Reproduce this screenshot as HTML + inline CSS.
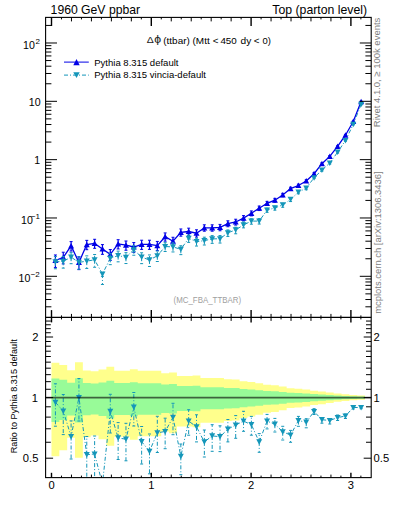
<!DOCTYPE html><html><head><meta charset="utf-8"><style>html,body{margin:0;padding:0;background:#fff;width:393px;height:512px;overflow:hidden}svg{display:block}text{font-family:"Liberation Sans",sans-serif}</style></head><body>
<svg width="393" height="512" viewBox="0 0 393 512">
<defs><clipPath id="cu"><rect x="45.60" y="17.40" width="325.60" height="300.00"/></clipPath>
<clipPath id="cr"><rect x="45.60" y="317.40" width="325.60" height="160.20"/></clipPath></defs>
<path d="M51.50,362.82 L51.50,362.82 L59.34,362.82 L59.34,364.96 L67.18,364.96 L67.18,370.14 L75.01,370.14 L75.01,362.32 L82.85,362.32 L82.85,370.44 L90.69,370.44 L90.69,371.22 L98.53,371.22 L98.53,369.49 L106.37,369.49 L106.37,366.71 L114.21,366.71 L114.21,370.67 L122.04,370.67 L122.04,370.67 L129.88,370.67 L129.88,369.28 L137.72,369.28 L137.72,370.87 L145.56,370.87 L145.56,370.87 L153.40,370.87 L153.40,370.87 L161.24,370.87 L161.24,373.18 L169.07,373.18 L169.07,372.38 L176.91,372.38 L176.91,375.88 L184.75,375.88 L184.75,375.88 L192.59,375.88 L192.59,375.53 L200.43,375.53 L200.43,378.10 L208.27,378.10 L208.27,378.10 L216.10,378.10 L216.10,378.10 L223.94,378.10 L223.94,379.23 L231.78,379.23 L231.78,379.41 L239.62,379.41 L239.62,381.14 L247.46,381.14 L247.46,382.09 L255.30,382.09 L255.30,383.29 L263.13,383.29 L263.13,384.78 L270.97,384.78 L270.97,385.31 L278.81,385.31 L278.81,386.51 L286.65,386.51 L286.65,388.22 L294.49,388.22 L294.49,388.65 L302.32,388.65 L302.32,389.53 L310.16,389.53 L310.16,390.75 L318.00,390.75 L318.00,391.50 L325.84,391.50 L325.84,392.43 L333.68,392.43 L333.68,393.57 L341.52,393.57 L341.52,394.36 L349.35,394.36 L349.35,394.96 L357.19,394.96 L357.19,395.46 L365.03,395.46 L365.03,399.80 L357.19,399.80 L357.19,400.32 L349.35,400.32 L349.35,400.96 L341.52,400.96 L341.52,401.82 L333.68,401.82 L333.68,403.09 L325.84,403.09 L325.84,404.16 L318.00,404.16 L318.00,405.03 L310.16,405.03 L310.16,406.49 L302.32,406.49 L302.32,407.57 L294.49,407.57 L294.49,408.11 L286.65,408.11 L286.65,410.30 L278.81,410.30 L278.81,411.90 L270.97,411.90 L270.97,412.63 L263.13,412.63 L263.13,414.72 L255.30,414.72 L255.30,416.46 L247.46,416.46 L247.46,417.90 L239.62,417.90 L239.62,420.60 L231.78,420.60 L231.78,420.89 L223.94,420.89 L223.94,422.73 L216.10,422.73 L216.10,422.73 L208.27,422.73 L208.27,422.73 L200.43,422.73 L200.43,427.19 L192.59,427.19 L192.59,426.57 L184.75,426.57 L184.75,426.57 L176.91,426.57 L176.91,433.19 L169.07,433.19 L169.07,431.60 L161.24,431.60 L161.24,436.30 L153.40,436.30 L153.40,436.30 L145.56,436.30 L145.56,436.30 L137.72,436.30 L137.72,439.76 L129.88,439.76 L129.88,436.72 L122.04,436.72 L122.04,436.72 L114.21,436.72 L114.21,445.80 L106.37,445.80 L106.37,439.30 L98.53,439.30 L98.53,435.57 L90.69,435.57 L90.69,437.22 L82.85,437.22 L82.85,457.71 L75.01,457.71 L75.01,437.87 L67.18,437.87 L67.18,450.28 L59.34,450.28 L59.34,456.24 L51.50,456.24 Z" fill="#ffff8c" clip-path="url(#cr)"/>
<path d="M51.50,378.49 L51.50,378.49 L59.34,378.49 L59.34,379.76 L67.18,379.76 L67.18,382.79 L75.01,382.79 L75.01,378.19 L82.85,378.19 L82.85,382.97 L90.69,382.97 L90.69,383.42 L98.53,383.42 L98.53,382.42 L106.37,382.42 L106.37,380.80 L114.21,380.80 L114.21,383.10 L122.04,383.10 L122.04,383.10 L129.88,383.10 L129.88,382.30 L137.72,382.30 L137.72,383.22 L145.56,383.22 L145.56,383.22 L153.40,383.22 L153.40,383.22 L161.24,383.22 L161.24,384.54 L169.07,384.54 L169.07,384.08 L176.91,384.08 L176.91,386.07 L184.75,386.07 L184.75,386.07 L192.59,386.07 L192.59,385.87 L200.43,385.87 L200.43,387.31 L208.27,387.31 L208.27,387.31 L216.10,387.31 L216.10,387.31 L223.94,387.31 L223.94,387.93 L231.78,387.93 L231.78,388.03 L239.62,388.03 L239.62,388.98 L247.46,388.98 L247.46,389.50 L255.30,389.50 L255.30,390.15 L263.13,390.15 L263.13,390.96 L270.97,390.96 L270.97,391.24 L278.81,391.24 L278.81,391.88 L286.65,391.88 L286.65,392.78 L294.49,392.78 L294.49,393.01 L302.32,393.01 L302.32,393.47 L310.16,393.47 L310.16,394.11 L318.00,394.11 L318.00,394.49 L325.84,394.49 L325.84,394.98 L333.68,394.98 L333.68,395.56 L341.52,395.56 L341.52,395.97 L349.35,395.97 L349.35,396.27 L357.19,396.27 L357.19,396.52 L365.03,396.52 L365.03,398.69 L357.19,398.69 L357.19,398.95 L349.35,398.95 L349.35,399.26 L341.52,399.26 L341.52,399.69 L333.68,399.69 L333.68,400.30 L325.84,400.30 L325.84,400.82 L318.00,400.82 L318.00,401.23 L310.16,401.23 L310.16,401.93 L302.32,401.93 L302.32,402.44 L294.49,402.44 L294.49,402.70 L286.65,402.70 L286.65,403.72 L278.81,403.72 L278.81,404.46 L270.97,404.46 L270.97,404.79 L263.13,404.79 L263.13,405.74 L255.30,405.74 L255.30,406.52 L247.46,406.52 L247.46,407.16 L239.62,407.16 L239.62,408.35 L231.78,408.35 L231.78,408.47 L223.94,408.47 L223.94,409.27 L216.10,409.27 L216.10,409.27 L208.27,409.27 L208.27,409.27 L200.43,409.27 L200.43,411.15 L192.59,411.15 L192.59,410.89 L184.75,410.89 L184.75,410.89 L176.91,410.89 L176.91,413.60 L169.07,413.60 L169.07,412.96 L161.24,412.96 L161.24,414.82 L153.40,414.82 L153.40,414.82 L145.56,414.82 L145.56,414.82 L137.72,414.82 L137.72,416.16 L129.88,416.16 L129.88,414.99 L122.04,414.99 L122.04,414.99 L114.21,414.99 L114.21,418.42 L106.37,418.42 L106.37,415.99 L98.53,415.99 L98.53,414.54 L90.69,414.54 L90.69,415.18 L82.85,415.18 L82.85,422.59 L75.01,422.59 L75.01,415.43 L67.18,415.43 L67.18,420.03 L59.34,420.03 L59.34,422.09 L51.50,422.09 Z" fill="#98fb98" clip-path="url(#cr)"/>
<g clip-path="url(#cr)"><polyline points="55.42,402.30 63.26,411.10 71.10,436.50 78.93,397.50 86.77,454.70 94.61,454.10 102.45,484.00 110.29,411.30 118.13,437.90 125.96,439.20 133.80,407.20 141.64,441.70 149.48,451.30 157.32,432.80 165.15,431.50 172.99,417.30 180.83,456.30 188.67,421.10 196.51,426.90 204.35,441.90 212.18,435.90 220.02,436.70 227.86,429.20 235.70,425.00 243.54,421.10 251.38,424.70 259.21,441.90 267.05,421.10 274.89,424.20 282.73,431.80 290.57,435.00 298.41,420.60 306.24,422.20 314.08,411.50 321.92,419.70 329.76,420.50 337.60,417.60 345.44,416.00 353.27,407.50 361.11,407.50" fill="none" stroke="#1496b9" stroke-width="1" stroke-dasharray="4,2,1,2"/><line x1="55.42" y1="402.30" x2="55.42" y2="383.80" stroke="#1496b9" stroke-width="1" stroke-dasharray="4,2,1,2"/><line x1="55.42" y1="402.30" x2="55.42" y2="426.20" stroke="#1496b9" stroke-width="1" stroke-dasharray="4,2,1,2"/><line x1="53.92" y1="383.80" x2="56.92" y2="383.80" stroke="#1496b9" stroke-width="1"/><line x1="53.92" y1="426.20" x2="56.92" y2="426.20" stroke="#1496b9" stroke-width="1"/><line x1="63.26" y1="411.10" x2="63.26" y2="394.50" stroke="#1496b9" stroke-width="1" stroke-dasharray="4,2,1,2"/><line x1="63.26" y1="411.10" x2="63.26" y2="434.60" stroke="#1496b9" stroke-width="1" stroke-dasharray="4,2,1,2"/><line x1="61.76" y1="394.50" x2="64.76" y2="394.50" stroke="#1496b9" stroke-width="1"/><line x1="61.76" y1="434.60" x2="64.76" y2="434.60" stroke="#1496b9" stroke-width="1"/><line x1="71.10" y1="436.50" x2="71.10" y2="420.90" stroke="#1496b9" stroke-width="1" stroke-dasharray="4,2,1,2"/><line x1="71.10" y1="436.50" x2="71.10" y2="459.00" stroke="#1496b9" stroke-width="1" stroke-dasharray="4,2,1,2"/><line x1="69.60" y1="420.90" x2="72.60" y2="420.90" stroke="#1496b9" stroke-width="1"/><line x1="69.60" y1="459.00" x2="72.60" y2="459.00" stroke="#1496b9" stroke-width="1"/><line x1="78.93" y1="397.50" x2="78.93" y2="378.50" stroke="#1496b9" stroke-width="1" stroke-dasharray="4,2,1,2"/><line x1="78.93" y1="397.50" x2="78.93" y2="421.00" stroke="#1496b9" stroke-width="1" stroke-dasharray="4,2,1,2"/><line x1="77.43" y1="378.50" x2="80.43" y2="378.50" stroke="#1496b9" stroke-width="1"/><line x1="77.43" y1="421.00" x2="80.43" y2="421.00" stroke="#1496b9" stroke-width="1"/><line x1="86.77" y1="454.70" x2="86.77" y2="436.50" stroke="#1496b9" stroke-width="1" stroke-dasharray="4,2,1,2"/><line x1="86.77" y1="454.70" x2="86.77" y2="480.00" stroke="#1496b9" stroke-width="1" stroke-dasharray="4,2,1,2"/><line x1="85.27" y1="436.50" x2="88.27" y2="436.50" stroke="#1496b9" stroke-width="1"/><line x1="85.27" y1="480.00" x2="88.27" y2="480.00" stroke="#1496b9" stroke-width="1"/><line x1="94.61" y1="454.10" x2="94.61" y2="436.00" stroke="#1496b9" stroke-width="1" stroke-dasharray="4,2,1,2"/><line x1="94.61" y1="454.10" x2="94.61" y2="480.00" stroke="#1496b9" stroke-width="1" stroke-dasharray="4,2,1,2"/><line x1="93.11" y1="436.00" x2="96.11" y2="436.00" stroke="#1496b9" stroke-width="1"/><line x1="93.11" y1="480.00" x2="96.11" y2="480.00" stroke="#1496b9" stroke-width="1"/><line x1="102.45" y1="484.00" x2="102.45" y2="492.00" stroke="#1496b9" stroke-width="1" stroke-dasharray="4,2,1,2"/><line x1="102.45" y1="484.00" x2="102.45" y2="520.00" stroke="#1496b9" stroke-width="1" stroke-dasharray="4,2,1,2"/><line x1="100.95" y1="492.00" x2="103.95" y2="492.00" stroke="#1496b9" stroke-width="1"/><line x1="100.95" y1="520.00" x2="103.95" y2="520.00" stroke="#1496b9" stroke-width="1"/><line x1="110.29" y1="411.30" x2="110.29" y2="394.30" stroke="#1496b9" stroke-width="1" stroke-dasharray="4,2,1,2"/><line x1="110.29" y1="411.30" x2="110.29" y2="433.00" stroke="#1496b9" stroke-width="1" stroke-dasharray="4,2,1,2"/><line x1="108.79" y1="394.30" x2="111.79" y2="394.30" stroke="#1496b9" stroke-width="1"/><line x1="108.79" y1="433.00" x2="111.79" y2="433.00" stroke="#1496b9" stroke-width="1"/><line x1="118.13" y1="437.90" x2="118.13" y2="422.60" stroke="#1496b9" stroke-width="1" stroke-dasharray="4,2,1,2"/><line x1="118.13" y1="437.90" x2="118.13" y2="459.50" stroke="#1496b9" stroke-width="1" stroke-dasharray="4,2,1,2"/><line x1="116.63" y1="422.60" x2="119.63" y2="422.60" stroke="#1496b9" stroke-width="1"/><line x1="116.63" y1="459.50" x2="119.63" y2="459.50" stroke="#1496b9" stroke-width="1"/><line x1="125.96" y1="439.20" x2="125.96" y2="423.30" stroke="#1496b9" stroke-width="1" stroke-dasharray="4,2,1,2"/><line x1="125.96" y1="439.20" x2="125.96" y2="460.80" stroke="#1496b9" stroke-width="1" stroke-dasharray="4,2,1,2"/><line x1="124.46" y1="423.30" x2="127.46" y2="423.30" stroke="#1496b9" stroke-width="1"/><line x1="124.46" y1="460.80" x2="127.46" y2="460.80" stroke="#1496b9" stroke-width="1"/><line x1="133.80" y1="407.20" x2="133.80" y2="392.50" stroke="#1496b9" stroke-width="1" stroke-dasharray="4,2,1,2"/><line x1="133.80" y1="407.20" x2="133.80" y2="426.00" stroke="#1496b9" stroke-width="1" stroke-dasharray="4,2,1,2"/><line x1="132.30" y1="392.50" x2="135.30" y2="392.50" stroke="#1496b9" stroke-width="1"/><line x1="132.30" y1="426.00" x2="135.30" y2="426.00" stroke="#1496b9" stroke-width="1"/><line x1="141.64" y1="441.70" x2="141.64" y2="426.50" stroke="#1496b9" stroke-width="1" stroke-dasharray="4,2,1,2"/><line x1="141.64" y1="441.70" x2="141.64" y2="464.00" stroke="#1496b9" stroke-width="1" stroke-dasharray="4,2,1,2"/><line x1="140.14" y1="426.50" x2="143.14" y2="426.50" stroke="#1496b9" stroke-width="1"/><line x1="140.14" y1="464.00" x2="143.14" y2="464.00" stroke="#1496b9" stroke-width="1"/><line x1="149.48" y1="451.30" x2="149.48" y2="434.00" stroke="#1496b9" stroke-width="1" stroke-dasharray="4,2,1,2"/><line x1="149.48" y1="451.30" x2="149.48" y2="473.80" stroke="#1496b9" stroke-width="1" stroke-dasharray="4,2,1,2"/><line x1="147.98" y1="434.00" x2="150.98" y2="434.00" stroke="#1496b9" stroke-width="1"/><line x1="147.98" y1="473.80" x2="150.98" y2="473.80" stroke="#1496b9" stroke-width="1"/><line x1="157.32" y1="432.80" x2="157.32" y2="416.30" stroke="#1496b9" stroke-width="1" stroke-dasharray="4,2,1,2"/><line x1="157.32" y1="432.80" x2="157.32" y2="452.50" stroke="#1496b9" stroke-width="1" stroke-dasharray="4,2,1,2"/><line x1="155.82" y1="416.30" x2="158.82" y2="416.30" stroke="#1496b9" stroke-width="1"/><line x1="155.82" y1="452.50" x2="158.82" y2="452.50" stroke="#1496b9" stroke-width="1"/><line x1="165.15" y1="431.50" x2="165.15" y2="418.20" stroke="#1496b9" stroke-width="1" stroke-dasharray="4,2,1,2"/><line x1="165.15" y1="431.50" x2="165.15" y2="448.70" stroke="#1496b9" stroke-width="1" stroke-dasharray="4,2,1,2"/><line x1="163.65" y1="418.20" x2="166.65" y2="418.20" stroke="#1496b9" stroke-width="1"/><line x1="163.65" y1="448.70" x2="166.65" y2="448.70" stroke="#1496b9" stroke-width="1"/><line x1="172.99" y1="417.30" x2="172.99" y2="403.30" stroke="#1496b9" stroke-width="1" stroke-dasharray="4,2,1,2"/><line x1="172.99" y1="417.30" x2="172.99" y2="434.70" stroke="#1496b9" stroke-width="1" stroke-dasharray="4,2,1,2"/><line x1="171.49" y1="403.30" x2="174.49" y2="403.30" stroke="#1496b9" stroke-width="1"/><line x1="171.49" y1="434.70" x2="174.49" y2="434.70" stroke="#1496b9" stroke-width="1"/><line x1="180.83" y1="456.30" x2="180.83" y2="444.00" stroke="#1496b9" stroke-width="1" stroke-dasharray="4,2,1,2"/><line x1="180.83" y1="456.30" x2="180.83" y2="474.70" stroke="#1496b9" stroke-width="1" stroke-dasharray="4,2,1,2"/><line x1="179.33" y1="444.00" x2="182.33" y2="444.00" stroke="#1496b9" stroke-width="1"/><line x1="179.33" y1="474.70" x2="182.33" y2="474.70" stroke="#1496b9" stroke-width="1"/><line x1="188.67" y1="421.10" x2="188.67" y2="409.70" stroke="#1496b9" stroke-width="1" stroke-dasharray="4,2,1,2"/><line x1="188.67" y1="421.10" x2="188.67" y2="435.20" stroke="#1496b9" stroke-width="1" stroke-dasharray="4,2,1,2"/><line x1="187.17" y1="409.70" x2="190.17" y2="409.70" stroke="#1496b9" stroke-width="1"/><line x1="187.17" y1="435.20" x2="190.17" y2="435.20" stroke="#1496b9" stroke-width="1"/><line x1="196.51" y1="426.90" x2="196.51" y2="414.80" stroke="#1496b9" stroke-width="1" stroke-dasharray="4,2,1,2"/><line x1="196.51" y1="426.90" x2="196.51" y2="441.90" stroke="#1496b9" stroke-width="1" stroke-dasharray="4,2,1,2"/><line x1="195.01" y1="414.80" x2="198.01" y2="414.80" stroke="#1496b9" stroke-width="1"/><line x1="195.01" y1="441.90" x2="198.01" y2="441.90" stroke="#1496b9" stroke-width="1"/><line x1="204.35" y1="441.90" x2="204.35" y2="430.00" stroke="#1496b9" stroke-width="1" stroke-dasharray="4,2,1,2"/><line x1="204.35" y1="441.90" x2="204.35" y2="457.00" stroke="#1496b9" stroke-width="1" stroke-dasharray="4,2,1,2"/><line x1="202.85" y1="430.00" x2="205.85" y2="430.00" stroke="#1496b9" stroke-width="1"/><line x1="202.85" y1="457.00" x2="205.85" y2="457.00" stroke="#1496b9" stroke-width="1"/><line x1="212.18" y1="435.90" x2="212.18" y2="424.70" stroke="#1496b9" stroke-width="1" stroke-dasharray="4,2,1,2"/><line x1="212.18" y1="435.90" x2="212.18" y2="451.30" stroke="#1496b9" stroke-width="1" stroke-dasharray="4,2,1,2"/><line x1="210.68" y1="424.70" x2="213.68" y2="424.70" stroke="#1496b9" stroke-width="1"/><line x1="210.68" y1="451.30" x2="213.68" y2="451.30" stroke="#1496b9" stroke-width="1"/><line x1="220.02" y1="436.70" x2="220.02" y2="425.80" stroke="#1496b9" stroke-width="1" stroke-dasharray="4,2,1,2"/><line x1="220.02" y1="436.70" x2="220.02" y2="451.60" stroke="#1496b9" stroke-width="1" stroke-dasharray="4,2,1,2"/><line x1="218.52" y1="425.80" x2="221.52" y2="425.80" stroke="#1496b9" stroke-width="1"/><line x1="218.52" y1="451.60" x2="221.52" y2="451.60" stroke="#1496b9" stroke-width="1"/><line x1="227.86" y1="429.20" x2="227.86" y2="419.50" stroke="#1496b9" stroke-width="1" stroke-dasharray="4,2,1,2"/><line x1="227.86" y1="429.20" x2="227.86" y2="441.90" stroke="#1496b9" stroke-width="1" stroke-dasharray="4,2,1,2"/><line x1="226.36" y1="419.50" x2="229.36" y2="419.50" stroke="#1496b9" stroke-width="1"/><line x1="226.36" y1="441.90" x2="229.36" y2="441.90" stroke="#1496b9" stroke-width="1"/><line x1="235.70" y1="425.00" x2="235.70" y2="415.60" stroke="#1496b9" stroke-width="1" stroke-dasharray="4,2,1,2"/><line x1="235.70" y1="425.00" x2="235.70" y2="438.30" stroke="#1496b9" stroke-width="1" stroke-dasharray="4,2,1,2"/><line x1="234.20" y1="415.60" x2="237.20" y2="415.60" stroke="#1496b9" stroke-width="1"/><line x1="234.20" y1="438.30" x2="237.20" y2="438.30" stroke="#1496b9" stroke-width="1"/><line x1="243.54" y1="421.10" x2="243.54" y2="411.30" stroke="#1496b9" stroke-width="1" stroke-dasharray="4,2,1,2"/><line x1="243.54" y1="421.10" x2="243.54" y2="431.30" stroke="#1496b9" stroke-width="1" stroke-dasharray="4,2,1,2"/><line x1="242.04" y1="411.30" x2="245.04" y2="411.30" stroke="#1496b9" stroke-width="1"/><line x1="242.04" y1="431.30" x2="245.04" y2="431.30" stroke="#1496b9" stroke-width="1"/><line x1="251.38" y1="424.70" x2="251.38" y2="416.40" stroke="#1496b9" stroke-width="1" stroke-dasharray="4,2,1,2"/><line x1="251.38" y1="424.70" x2="251.38" y2="435.20" stroke="#1496b9" stroke-width="1" stroke-dasharray="4,2,1,2"/><line x1="249.88" y1="416.40" x2="252.88" y2="416.40" stroke="#1496b9" stroke-width="1"/><line x1="249.88" y1="435.20" x2="252.88" y2="435.20" stroke="#1496b9" stroke-width="1"/><line x1="259.21" y1="441.90" x2="259.21" y2="433.60" stroke="#1496b9" stroke-width="1" stroke-dasharray="4,2,1,2"/><line x1="259.21" y1="441.90" x2="259.21" y2="452.30" stroke="#1496b9" stroke-width="1" stroke-dasharray="4,2,1,2"/><line x1="257.71" y1="433.60" x2="260.71" y2="433.60" stroke="#1496b9" stroke-width="1"/><line x1="257.71" y1="452.30" x2="260.71" y2="452.30" stroke="#1496b9" stroke-width="1"/><line x1="267.05" y1="421.10" x2="267.05" y2="414.40" stroke="#1496b9" stroke-width="1" stroke-dasharray="4,2,1,2"/><line x1="267.05" y1="421.10" x2="267.05" y2="428.90" stroke="#1496b9" stroke-width="1" stroke-dasharray="4,2,1,2"/><line x1="265.55" y1="414.40" x2="268.55" y2="414.40" stroke="#1496b9" stroke-width="1"/><line x1="265.55" y1="428.90" x2="268.55" y2="428.90" stroke="#1496b9" stroke-width="1"/><line x1="274.89" y1="424.20" x2="274.89" y2="418.40" stroke="#1496b9" stroke-width="1" stroke-dasharray="4,2,1,2"/><line x1="274.89" y1="424.20" x2="274.89" y2="432.00" stroke="#1496b9" stroke-width="1" stroke-dasharray="4,2,1,2"/><line x1="273.39" y1="418.40" x2="276.39" y2="418.40" stroke="#1496b9" stroke-width="1"/><line x1="273.39" y1="432.00" x2="276.39" y2="432.00" stroke="#1496b9" stroke-width="1"/><line x1="282.73" y1="431.80" x2="282.73" y2="426.30" stroke="#1496b9" stroke-width="1" stroke-dasharray="4,2,1,2"/><line x1="282.73" y1="431.80" x2="282.73" y2="440.00" stroke="#1496b9" stroke-width="1" stroke-dasharray="4,2,1,2"/><line x1="281.23" y1="426.30" x2="284.23" y2="426.30" stroke="#1496b9" stroke-width="1"/><line x1="281.23" y1="440.00" x2="284.23" y2="440.00" stroke="#1496b9" stroke-width="1"/><line x1="290.57" y1="435.00" x2="290.57" y2="430.40" stroke="#1496b9" stroke-width="1" stroke-dasharray="4,2,1,2"/><line x1="290.57" y1="435.00" x2="290.57" y2="442.30" stroke="#1496b9" stroke-width="1" stroke-dasharray="4,2,1,2"/><line x1="289.07" y1="430.40" x2="292.07" y2="430.40" stroke="#1496b9" stroke-width="1"/><line x1="289.07" y1="442.30" x2="292.07" y2="442.30" stroke="#1496b9" stroke-width="1"/><line x1="298.41" y1="420.60" x2="298.41" y2="416.40" stroke="#1496b9" stroke-width="1" stroke-dasharray="4,2,1,2"/><line x1="298.41" y1="420.60" x2="298.41" y2="426.30" stroke="#1496b9" stroke-width="1" stroke-dasharray="4,2,1,2"/><line x1="296.91" y1="416.40" x2="299.91" y2="416.40" stroke="#1496b9" stroke-width="1"/><line x1="296.91" y1="426.30" x2="299.91" y2="426.30" stroke="#1496b9" stroke-width="1"/><line x1="306.24" y1="422.20" x2="306.24" y2="418.70" stroke="#1496b9" stroke-width="1" stroke-dasharray="4,2,1,2"/><line x1="306.24" y1="422.20" x2="306.24" y2="427.80" stroke="#1496b9" stroke-width="1" stroke-dasharray="4,2,1,2"/><line x1="304.74" y1="418.70" x2="307.74" y2="418.70" stroke="#1496b9" stroke-width="1"/><line x1="304.74" y1="427.80" x2="307.74" y2="427.80" stroke="#1496b9" stroke-width="1"/><line x1="314.08" y1="411.50" x2="314.08" y2="408.70" stroke="#1496b9" stroke-width="1" stroke-dasharray="4,2,1,2"/><line x1="314.08" y1="411.50" x2="314.08" y2="414.50" stroke="#1496b9" stroke-width="1" stroke-dasharray="4,2,1,2"/><line x1="312.58" y1="408.70" x2="315.58" y2="408.70" stroke="#1496b9" stroke-width="1"/><line x1="312.58" y1="414.50" x2="315.58" y2="414.50" stroke="#1496b9" stroke-width="1"/><line x1="321.92" y1="419.70" x2="321.92" y2="417.60" stroke="#1496b9" stroke-width="1" stroke-dasharray="4,2,1,2"/><line x1="321.92" y1="419.70" x2="321.92" y2="423.20" stroke="#1496b9" stroke-width="1" stroke-dasharray="4,2,1,2"/><line x1="320.42" y1="417.60" x2="323.42" y2="417.60" stroke="#1496b9" stroke-width="1"/><line x1="320.42" y1="423.20" x2="323.42" y2="423.20" stroke="#1496b9" stroke-width="1"/><line x1="329.76" y1="420.50" x2="329.76" y2="418.70" stroke="#1496b9" stroke-width="1" stroke-dasharray="4,2,1,2"/><line x1="329.76" y1="420.50" x2="329.76" y2="424.00" stroke="#1496b9" stroke-width="1" stroke-dasharray="4,2,1,2"/><line x1="328.26" y1="418.70" x2="331.26" y2="418.70" stroke="#1496b9" stroke-width="1"/><line x1="328.26" y1="424.00" x2="331.26" y2="424.00" stroke="#1496b9" stroke-width="1"/><line x1="337.60" y1="417.60" x2="337.60" y2="415.00" stroke="#1496b9" stroke-width="1" stroke-dasharray="4,2,1,2"/><line x1="337.60" y1="417.60" x2="337.60" y2="420.50" stroke="#1496b9" stroke-width="1" stroke-dasharray="4,2,1,2"/><line x1="336.10" y1="415.00" x2="339.10" y2="415.00" stroke="#1496b9" stroke-width="1"/><line x1="336.10" y1="420.50" x2="339.10" y2="420.50" stroke="#1496b9" stroke-width="1"/><line x1="345.44" y1="416.00" x2="345.44" y2="414.00" stroke="#1496b9" stroke-width="1" stroke-dasharray="4,2,1,2"/><line x1="345.44" y1="416.00" x2="345.44" y2="418.50" stroke="#1496b9" stroke-width="1" stroke-dasharray="4,2,1,2"/><line x1="343.94" y1="414.00" x2="346.94" y2="414.00" stroke="#1496b9" stroke-width="1"/><line x1="343.94" y1="418.50" x2="346.94" y2="418.50" stroke="#1496b9" stroke-width="1"/><line x1="353.27" y1="407.50" x2="353.27" y2="406.00" stroke="#1496b9" stroke-width="1" stroke-dasharray="4,2,1,2"/><line x1="353.27" y1="407.50" x2="353.27" y2="409.00" stroke="#1496b9" stroke-width="1" stroke-dasharray="4,2,1,2"/><line x1="351.77" y1="406.00" x2="354.77" y2="406.00" stroke="#1496b9" stroke-width="1"/><line x1="351.77" y1="409.00" x2="354.77" y2="409.00" stroke="#1496b9" stroke-width="1"/><line x1="361.11" y1="407.50" x2="361.11" y2="406.30" stroke="#1496b9" stroke-width="1" stroke-dasharray="4,2,1,2"/><line x1="361.11" y1="407.50" x2="361.11" y2="408.70" stroke="#1496b9" stroke-width="1" stroke-dasharray="4,2,1,2"/><line x1="359.61" y1="406.30" x2="362.61" y2="406.30" stroke="#1496b9" stroke-width="1"/><line x1="359.61" y1="408.70" x2="362.61" y2="408.70" stroke="#1496b9" stroke-width="1"/><path d="M52.42,399.70 L58.42,399.70 L55.42,405.20 Z" fill="#1496b9"/><path d="M60.26,408.50 L66.26,408.50 L63.26,414.00 Z" fill="#1496b9"/><path d="M68.10,433.90 L74.10,433.90 L71.10,439.40 Z" fill="#1496b9"/><path d="M75.93,394.90 L81.93,394.90 L78.93,400.40 Z" fill="#1496b9"/><path d="M83.77,452.10 L89.77,452.10 L86.77,457.60 Z" fill="#1496b9"/><path d="M91.61,451.50 L97.61,451.50 L94.61,457.00 Z" fill="#1496b9"/><path d="M99.45,481.40 L105.45,481.40 L102.45,486.90 Z" fill="#1496b9"/><path d="M107.29,408.70 L113.29,408.70 L110.29,414.20 Z" fill="#1496b9"/><path d="M115.13,435.30 L121.13,435.30 L118.13,440.80 Z" fill="#1496b9"/><path d="M122.96,436.60 L128.96,436.60 L125.96,442.10 Z" fill="#1496b9"/><path d="M130.80,404.60 L136.80,404.60 L133.80,410.10 Z" fill="#1496b9"/><path d="M138.64,439.10 L144.64,439.10 L141.64,444.60 Z" fill="#1496b9"/><path d="M146.48,448.70 L152.48,448.70 L149.48,454.20 Z" fill="#1496b9"/><path d="M154.32,430.20 L160.32,430.20 L157.32,435.70 Z" fill="#1496b9"/><path d="M162.15,428.90 L168.15,428.90 L165.15,434.40 Z" fill="#1496b9"/><path d="M169.99,414.70 L175.99,414.70 L172.99,420.20 Z" fill="#1496b9"/><path d="M177.83,453.70 L183.83,453.70 L180.83,459.20 Z" fill="#1496b9"/><path d="M185.67,418.50 L191.67,418.50 L188.67,424.00 Z" fill="#1496b9"/><path d="M193.51,424.30 L199.51,424.30 L196.51,429.80 Z" fill="#1496b9"/><path d="M201.35,439.30 L207.35,439.30 L204.35,444.80 Z" fill="#1496b9"/><path d="M209.18,433.30 L215.18,433.30 L212.18,438.80 Z" fill="#1496b9"/><path d="M217.02,434.10 L223.02,434.10 L220.02,439.60 Z" fill="#1496b9"/><path d="M224.86,426.60 L230.86,426.60 L227.86,432.10 Z" fill="#1496b9"/><path d="M232.70,422.40 L238.70,422.40 L235.70,427.90 Z" fill="#1496b9"/><path d="M240.54,418.50 L246.54,418.50 L243.54,424.00 Z" fill="#1496b9"/><path d="M248.38,422.10 L254.38,422.10 L251.38,427.60 Z" fill="#1496b9"/><path d="M256.21,439.30 L262.21,439.30 L259.21,444.80 Z" fill="#1496b9"/><path d="M264.05,418.50 L270.05,418.50 L267.05,424.00 Z" fill="#1496b9"/><path d="M271.89,421.60 L277.89,421.60 L274.89,427.10 Z" fill="#1496b9"/><path d="M279.73,429.20 L285.73,429.20 L282.73,434.70 Z" fill="#1496b9"/><path d="M287.57,432.40 L293.57,432.40 L290.57,437.90 Z" fill="#1496b9"/><path d="M295.41,418.00 L301.41,418.00 L298.41,423.50 Z" fill="#1496b9"/><path d="M303.24,419.60 L309.24,419.60 L306.24,425.10 Z" fill="#1496b9"/><path d="M311.08,408.90 L317.08,408.90 L314.08,414.40 Z" fill="#1496b9"/><path d="M318.92,417.10 L324.92,417.10 L321.92,422.60 Z" fill="#1496b9"/><path d="M326.76,417.90 L332.76,417.90 L329.76,423.40 Z" fill="#1496b9"/><path d="M334.60,415.00 L340.60,415.00 L337.60,420.50 Z" fill="#1496b9"/><path d="M342.44,413.40 L348.44,413.40 L345.44,418.90 Z" fill="#1496b9"/><path d="M350.27,404.90 L356.27,404.90 L353.27,410.40 Z" fill="#1496b9"/><path d="M358.11,404.90 L364.11,404.90 L361.11,410.40 Z" fill="#1496b9"/></g>
<line x1="45.60" y1="397.7" x2="371.20" y2="397.7" stroke="#000" stroke-opacity="0.6" stroke-width="1.7"/>
<g clip-path="url(#cu)"><polyline points="55.42,260.50 63.26,257.40 71.10,245.90 78.93,262.40 86.77,244.60 94.61,243.40 102.45,249.00 110.29,254.40 118.13,243.90 125.96,245.20 133.80,247.00 141.64,244.40 149.48,244.40 157.32,245.60 165.15,236.70 172.99,241.20 180.83,232.30 188.67,231.50 196.51,233.20 204.35,227.80 212.18,227.80 220.02,227.40 227.86,223.60 235.70,222.00 243.54,218.10 251.38,213.30 259.21,208.20 267.05,203.30 274.89,200.20 282.73,195.00 290.57,188.60 298.41,185.50 306.24,181.00 314.08,173.70 321.92,163.70 329.76,156.40 337.60,146.40 345.44,135.20 353.27,121.50 361.11,101.60" fill="none" stroke="#0000e6" stroke-width="1.3"/><line x1="55.42" y1="254.96" x2="55.42" y2="267.60" stroke="#0000e6" stroke-width="1.2"/><line x1="53.92" y1="254.96" x2="56.92" y2="254.96" stroke="#0000e6" stroke-width="1"/><line x1="53.92" y1="267.60" x2="56.92" y2="267.60" stroke="#0000e6" stroke-width="1"/><line x1="63.26" y1="252.23" x2="63.26" y2="263.90" stroke="#0000e6" stroke-width="1.2"/><line x1="61.76" y1="252.23" x2="64.76" y2="252.23" stroke="#0000e6" stroke-width="1"/><line x1="61.76" y1="263.90" x2="64.76" y2="263.90" stroke="#0000e6" stroke-width="1"/><line x1="71.10" y1="241.61" x2="71.10" y2="251.07" stroke="#0000e6" stroke-width="1.2"/><line x1="69.60" y1="241.61" x2="72.60" y2="241.61" stroke="#0000e6" stroke-width="1"/><line x1="69.60" y1="251.07" x2="72.60" y2="251.07" stroke="#0000e6" stroke-width="1"/><line x1="78.93" y1="256.78" x2="78.93" y2="269.64" stroke="#0000e6" stroke-width="1.2"/><line x1="77.43" y1="256.78" x2="80.43" y2="256.78" stroke="#0000e6" stroke-width="1"/><line x1="77.43" y1="269.64" x2="80.43" y2="269.64" stroke="#0000e6" stroke-width="1"/><line x1="86.77" y1="240.36" x2="86.77" y2="249.70" stroke="#0000e6" stroke-width="1.2"/><line x1="85.27" y1="240.36" x2="88.27" y2="240.36" stroke="#0000e6" stroke-width="1"/><line x1="85.27" y1="249.70" x2="88.27" y2="249.70" stroke="#0000e6" stroke-width="1"/><line x1="94.61" y1="239.29" x2="94.61" y2="248.31" stroke="#0000e6" stroke-width="1.2"/><line x1="93.11" y1="239.29" x2="96.11" y2="239.29" stroke="#0000e6" stroke-width="1"/><line x1="93.11" y1="248.31" x2="96.11" y2="248.31" stroke="#0000e6" stroke-width="1"/><line x1="102.45" y1="244.60" x2="102.45" y2="254.33" stroke="#0000e6" stroke-width="1.2"/><line x1="100.95" y1="244.60" x2="103.95" y2="244.60" stroke="#0000e6" stroke-width="1"/><line x1="100.95" y1="254.33" x2="103.95" y2="254.33" stroke="#0000e6" stroke-width="1"/><line x1="110.29" y1="249.53" x2="110.29" y2="260.43" stroke="#0000e6" stroke-width="1.2"/><line x1="108.79" y1="249.53" x2="111.79" y2="249.53" stroke="#0000e6" stroke-width="1"/><line x1="108.79" y1="260.43" x2="111.79" y2="260.43" stroke="#0000e6" stroke-width="1"/><line x1="118.13" y1="239.70" x2="118.13" y2="248.94" stroke="#0000e6" stroke-width="1.2"/><line x1="116.63" y1="239.70" x2="119.63" y2="239.70" stroke="#0000e6" stroke-width="1"/><line x1="116.63" y1="248.94" x2="119.63" y2="248.94" stroke="#0000e6" stroke-width="1"/><line x1="125.96" y1="241.00" x2="125.96" y2="250.24" stroke="#0000e6" stroke-width="1.2"/><line x1="124.46" y1="241.00" x2="127.46" y2="241.00" stroke="#0000e6" stroke-width="1"/><line x1="124.46" y1="250.24" x2="127.46" y2="250.24" stroke="#0000e6" stroke-width="1"/><line x1="133.80" y1="242.57" x2="133.80" y2="252.38" stroke="#0000e6" stroke-width="1.2"/><line x1="132.30" y1="242.57" x2="135.30" y2="242.57" stroke="#0000e6" stroke-width="1"/><line x1="132.30" y1="252.38" x2="135.30" y2="252.38" stroke="#0000e6" stroke-width="1"/><line x1="141.64" y1="240.23" x2="141.64" y2="249.39" stroke="#0000e6" stroke-width="1.2"/><line x1="140.14" y1="240.23" x2="143.14" y2="240.23" stroke="#0000e6" stroke-width="1"/><line x1="140.14" y1="249.39" x2="143.14" y2="249.39" stroke="#0000e6" stroke-width="1"/><line x1="149.48" y1="240.23" x2="149.48" y2="249.39" stroke="#0000e6" stroke-width="1.2"/><line x1="147.98" y1="240.23" x2="150.98" y2="240.23" stroke="#0000e6" stroke-width="1"/><line x1="147.98" y1="249.39" x2="150.98" y2="249.39" stroke="#0000e6" stroke-width="1"/><line x1="157.32" y1="241.43" x2="157.32" y2="250.59" stroke="#0000e6" stroke-width="1.2"/><line x1="155.82" y1="241.43" x2="158.82" y2="241.43" stroke="#0000e6" stroke-width="1"/><line x1="155.82" y1="250.59" x2="158.82" y2="250.59" stroke="#0000e6" stroke-width="1"/><line x1="165.15" y1="232.92" x2="165.15" y2="241.15" stroke="#0000e6" stroke-width="1.2"/><line x1="163.65" y1="232.92" x2="166.65" y2="232.92" stroke="#0000e6" stroke-width="1"/><line x1="163.65" y1="241.15" x2="166.65" y2="241.15" stroke="#0000e6" stroke-width="1"/><line x1="172.99" y1="237.28" x2="172.99" y2="245.84" stroke="#0000e6" stroke-width="1.2"/><line x1="171.49" y1="237.28" x2="174.49" y2="237.28" stroke="#0000e6" stroke-width="1"/><line x1="171.49" y1="245.84" x2="174.49" y2="245.84" stroke="#0000e6" stroke-width="1"/><line x1="180.83" y1="228.96" x2="180.83" y2="236.15" stroke="#0000e6" stroke-width="1.2"/><line x1="179.33" y1="228.96" x2="182.33" y2="228.96" stroke="#0000e6" stroke-width="1"/><line x1="179.33" y1="236.15" x2="182.33" y2="236.15" stroke="#0000e6" stroke-width="1"/><line x1="188.67" y1="228.16" x2="188.67" y2="235.35" stroke="#0000e6" stroke-width="1.2"/><line x1="187.17" y1="228.16" x2="190.17" y2="228.16" stroke="#0000e6" stroke-width="1"/><line x1="187.17" y1="235.35" x2="190.17" y2="235.35" stroke="#0000e6" stroke-width="1"/><line x1="196.51" y1="229.80" x2="196.51" y2="237.13" stroke="#0000e6" stroke-width="1.2"/><line x1="195.01" y1="229.80" x2="198.01" y2="229.80" stroke="#0000e6" stroke-width="1"/><line x1="195.01" y1="237.13" x2="198.01" y2="237.13" stroke="#0000e6" stroke-width="1"/><line x1="204.35" y1="224.82" x2="204.35" y2="231.18" stroke="#0000e6" stroke-width="1.2"/><line x1="202.85" y1="224.82" x2="205.85" y2="224.82" stroke="#0000e6" stroke-width="1"/><line x1="202.85" y1="231.18" x2="205.85" y2="231.18" stroke="#0000e6" stroke-width="1"/><line x1="212.18" y1="224.82" x2="212.18" y2="231.18" stroke="#0000e6" stroke-width="1.2"/><line x1="210.68" y1="224.82" x2="213.68" y2="224.82" stroke="#0000e6" stroke-width="1"/><line x1="210.68" y1="231.18" x2="213.68" y2="231.18" stroke="#0000e6" stroke-width="1"/><line x1="220.02" y1="224.42" x2="220.02" y2="230.78" stroke="#0000e6" stroke-width="1.2"/><line x1="218.52" y1="224.42" x2="221.52" y2="224.42" stroke="#0000e6" stroke-width="1"/><line x1="218.52" y1="230.78" x2="221.52" y2="230.78" stroke="#0000e6" stroke-width="1"/><line x1="227.86" y1="220.80" x2="227.86" y2="226.75" stroke="#0000e6" stroke-width="1.2"/><line x1="226.36" y1="220.80" x2="229.36" y2="220.80" stroke="#0000e6" stroke-width="1"/><line x1="226.36" y1="226.75" x2="229.36" y2="226.75" stroke="#0000e6" stroke-width="1"/><line x1="235.70" y1="219.23" x2="235.70" y2="225.11" stroke="#0000e6" stroke-width="1.2"/><line x1="234.20" y1="219.23" x2="237.20" y2="219.23" stroke="#0000e6" stroke-width="1"/><line x1="234.20" y1="225.11" x2="237.20" y2="225.11" stroke="#0000e6" stroke-width="1"/><line x1="243.54" y1="215.60" x2="243.54" y2="220.87" stroke="#0000e6" stroke-width="1.2"/><line x1="242.04" y1="215.60" x2="245.04" y2="215.60" stroke="#0000e6" stroke-width="1"/><line x1="242.04" y1="220.87" x2="245.04" y2="220.87" stroke="#0000e6" stroke-width="1"/><line x1="251.38" y1="210.95" x2="251.38" y2="215.89" stroke="#0000e6" stroke-width="1.2"/><line x1="249.88" y1="210.95" x2="252.88" y2="210.95" stroke="#0000e6" stroke-width="1"/><line x1="249.88" y1="215.89" x2="252.88" y2="215.89" stroke="#0000e6" stroke-width="1"/><line x1="259.21" y1="206.04" x2="259.21" y2="210.56" stroke="#0000e6" stroke-width="1.2"/><line x1="257.71" y1="206.04" x2="260.71" y2="206.04" stroke="#0000e6" stroke-width="1"/><line x1="257.71" y1="210.56" x2="260.71" y2="210.56" stroke="#0000e6" stroke-width="1"/><line x1="267.05" y1="201.37" x2="267.05" y2="205.38" stroke="#0000e6" stroke-width="1.2"/><line x1="265.55" y1="201.37" x2="268.55" y2="201.37" stroke="#0000e6" stroke-width="1"/><line x1="265.55" y1="205.38" x2="268.55" y2="205.38" stroke="#0000e6" stroke-width="1"/><line x1="274.89" y1="198.36" x2="274.89" y2="202.19" stroke="#0000e6" stroke-width="1.2"/><line x1="273.39" y1="198.36" x2="276.39" y2="198.36" stroke="#0000e6" stroke-width="1"/><line x1="273.39" y1="202.19" x2="276.39" y2="202.19" stroke="#0000e6" stroke-width="1"/><line x1="282.73" y1="193.34" x2="282.73" y2="196.77" stroke="#0000e6" stroke-width="1.2"/><line x1="281.23" y1="193.34" x2="284.23" y2="193.34" stroke="#0000e6" stroke-width="1"/><line x1="281.23" y1="196.77" x2="284.23" y2="196.77" stroke="#0000e6" stroke-width="1"/><line x1="290.57" y1="187.20" x2="290.57" y2="190.08" stroke="#0000e6" stroke-width="1.2"/><line x1="289.07" y1="187.20" x2="292.07" y2="187.20" stroke="#0000e6" stroke-width="1"/><line x1="289.07" y1="190.08" x2="292.07" y2="190.08" stroke="#0000e6" stroke-width="1"/><line x1="298.41" y1="184.17" x2="298.41" y2="186.90" stroke="#0000e6" stroke-width="1.2"/><line x1="296.91" y1="184.17" x2="299.91" y2="184.17" stroke="#0000e6" stroke-width="1"/><line x1="296.91" y1="186.90" x2="299.91" y2="186.90" stroke="#0000e6" stroke-width="1"/><line x1="306.24" y1="179.80" x2="306.24" y2="182.26" stroke="#0000e6" stroke-width="1.2"/><line x1="304.74" y1="179.80" x2="307.74" y2="179.80" stroke="#0000e6" stroke-width="1"/><line x1="304.74" y1="182.26" x2="307.74" y2="182.26" stroke="#0000e6" stroke-width="1"/><line x1="314.08" y1="172.69" x2="314.08" y2="174.75" stroke="#0000e6" stroke-width="1.2"/><line x1="312.58" y1="172.69" x2="315.58" y2="172.69" stroke="#0000e6" stroke-width="1"/><line x1="312.58" y1="174.75" x2="315.58" y2="174.75" stroke="#0000e6" stroke-width="1"/><line x1="321.92" y1="162.80" x2="321.92" y2="164.63" stroke="#0000e6" stroke-width="1.2"/><line x1="320.42" y1="162.80" x2="323.42" y2="162.80" stroke="#0000e6" stroke-width="1"/><line x1="320.42" y1="164.63" x2="323.42" y2="164.63" stroke="#0000e6" stroke-width="1"/><line x1="329.76" y1="155.64" x2="329.76" y2="157.18" stroke="#0000e6" stroke-width="1.2"/><line x1="328.26" y1="155.64" x2="331.26" y2="155.64" stroke="#0000e6" stroke-width="1"/><line x1="328.26" y1="157.18" x2="331.26" y2="157.18" stroke="#0000e6" stroke-width="1"/><line x1="337.60" y1="145.81" x2="337.60" y2="147.00" stroke="#0000e6" stroke-width="1.2"/><line x1="336.10" y1="145.81" x2="339.10" y2="145.81" stroke="#0000e6" stroke-width="1"/><line x1="336.10" y1="147.00" x2="339.10" y2="147.00" stroke="#0000e6" stroke-width="1"/><line x1="345.44" y1="134.73" x2="345.44" y2="135.68" stroke="#0000e6" stroke-width="1.2"/><line x1="343.94" y1="134.73" x2="346.94" y2="134.73" stroke="#0000e6" stroke-width="1"/><line x1="343.94" y1="135.68" x2="346.94" y2="135.68" stroke="#0000e6" stroke-width="1"/><line x1="353.27" y1="121.11" x2="353.27" y2="121.89" stroke="#0000e6" stroke-width="1.2"/><line x1="351.77" y1="121.11" x2="354.77" y2="121.11" stroke="#0000e6" stroke-width="1"/><line x1="351.77" y1="121.89" x2="354.77" y2="121.89" stroke="#0000e6" stroke-width="1"/><line x1="361.11" y1="101.29" x2="361.11" y2="101.92" stroke="#0000e6" stroke-width="1.2"/><line x1="359.61" y1="101.29" x2="362.61" y2="101.29" stroke="#0000e6" stroke-width="1"/><line x1="359.61" y1="101.92" x2="362.61" y2="101.92" stroke="#0000e6" stroke-width="1"/><path d="M52.42,263.10 L58.42,263.10 L55.42,257.60 Z" fill="#0000e6"/><path d="M60.26,260.00 L66.26,260.00 L63.26,254.50 Z" fill="#0000e6"/><path d="M68.10,248.50 L74.10,248.50 L71.10,243.00 Z" fill="#0000e6"/><path d="M75.93,265.00 L81.93,265.00 L78.93,259.50 Z" fill="#0000e6"/><path d="M83.77,247.20 L89.77,247.20 L86.77,241.70 Z" fill="#0000e6"/><path d="M91.61,246.00 L97.61,246.00 L94.61,240.50 Z" fill="#0000e6"/><path d="M99.45,251.60 L105.45,251.60 L102.45,246.10 Z" fill="#0000e6"/><path d="M107.29,257.00 L113.29,257.00 L110.29,251.50 Z" fill="#0000e6"/><path d="M115.13,246.50 L121.13,246.50 L118.13,241.00 Z" fill="#0000e6"/><path d="M122.96,247.80 L128.96,247.80 L125.96,242.30 Z" fill="#0000e6"/><path d="M130.80,249.60 L136.80,249.60 L133.80,244.10 Z" fill="#0000e6"/><path d="M138.64,247.00 L144.64,247.00 L141.64,241.50 Z" fill="#0000e6"/><path d="M146.48,247.00 L152.48,247.00 L149.48,241.50 Z" fill="#0000e6"/><path d="M154.32,248.20 L160.32,248.20 L157.32,242.70 Z" fill="#0000e6"/><path d="M162.15,239.30 L168.15,239.30 L165.15,233.80 Z" fill="#0000e6"/><path d="M169.99,243.80 L175.99,243.80 L172.99,238.30 Z" fill="#0000e6"/><path d="M177.83,234.90 L183.83,234.90 L180.83,229.40 Z" fill="#0000e6"/><path d="M185.67,234.10 L191.67,234.10 L188.67,228.60 Z" fill="#0000e6"/><path d="M193.51,235.80 L199.51,235.80 L196.51,230.30 Z" fill="#0000e6"/><path d="M201.35,230.40 L207.35,230.40 L204.35,224.90 Z" fill="#0000e6"/><path d="M209.18,230.40 L215.18,230.40 L212.18,224.90 Z" fill="#0000e6"/><path d="M217.02,230.00 L223.02,230.00 L220.02,224.50 Z" fill="#0000e6"/><path d="M224.86,226.20 L230.86,226.20 L227.86,220.70 Z" fill="#0000e6"/><path d="M232.70,224.60 L238.70,224.60 L235.70,219.10 Z" fill="#0000e6"/><path d="M240.54,220.70 L246.54,220.70 L243.54,215.20 Z" fill="#0000e6"/><path d="M248.38,215.90 L254.38,215.90 L251.38,210.40 Z" fill="#0000e6"/><path d="M256.21,210.80 L262.21,210.80 L259.21,205.30 Z" fill="#0000e6"/><path d="M264.05,205.90 L270.05,205.90 L267.05,200.40 Z" fill="#0000e6"/><path d="M271.89,202.80 L277.89,202.80 L274.89,197.30 Z" fill="#0000e6"/><path d="M279.73,197.60 L285.73,197.60 L282.73,192.10 Z" fill="#0000e6"/><path d="M287.57,191.20 L293.57,191.20 L290.57,185.70 Z" fill="#0000e6"/><path d="M295.41,188.10 L301.41,188.10 L298.41,182.60 Z" fill="#0000e6"/><path d="M303.24,183.60 L309.24,183.60 L306.24,178.10 Z" fill="#0000e6"/><path d="M311.08,176.30 L317.08,176.30 L314.08,170.80 Z" fill="#0000e6"/><path d="M318.92,166.30 L324.92,166.30 L321.92,160.80 Z" fill="#0000e6"/><path d="M326.76,159.00 L332.76,159.00 L329.76,153.50 Z" fill="#0000e6"/><path d="M334.60,149.00 L340.60,149.00 L337.60,143.50 Z" fill="#0000e6"/><path d="M342.44,137.80 L348.44,137.80 L345.44,132.30 Z" fill="#0000e6"/><path d="M350.27,124.10 L356.27,124.10 L353.27,118.60 Z" fill="#0000e6"/><path d="M358.11,104.20 L364.11,104.20 L361.11,98.70 Z" fill="#0000e6"/><polyline points="55.42,261.86 63.26,261.31 71.10,257.17 78.93,262.37 86.77,261.15 94.61,259.77 102.45,274.04 110.29,258.37 118.13,255.58 125.96,257.26 133.80,249.78 141.64,257.18 149.48,259.96 157.32,255.80 165.15,246.52 172.99,246.91 180.83,249.31 188.67,238.31 196.51,241.69 204.35,240.64 212.18,238.90 220.02,238.73 227.86,232.76 235.70,229.94 243.54,224.91 251.38,221.15 259.21,221.04 267.05,210.11 274.89,207.91 282.73,204.91 290.57,199.44 298.41,192.17 306.24,188.13 314.08,177.73 321.92,170.10 329.76,163.04 337.60,152.20 345.44,140.53 353.27,124.37 361.11,104.47" fill="none" stroke="#1496b9" stroke-width="1" stroke-dasharray="4,2,1,2"/><line x1="55.42" y1="261.86" x2="55.42" y2="256.50" stroke="#1496b9" stroke-width="1" stroke-dasharray="4,2,1,2"/><line x1="55.42" y1="261.86" x2="55.42" y2="268.79" stroke="#1496b9" stroke-width="1" stroke-dasharray="4,2,1,2"/><line x1="53.92" y1="256.50" x2="56.92" y2="256.50" stroke="#1496b9" stroke-width="1"/><line x1="53.92" y1="268.79" x2="56.92" y2="268.79" stroke="#1496b9" stroke-width="1"/><line x1="63.26" y1="261.31" x2="63.26" y2="256.50" stroke="#1496b9" stroke-width="1" stroke-dasharray="4,2,1,2"/><line x1="63.26" y1="261.31" x2="63.26" y2="268.12" stroke="#1496b9" stroke-width="1" stroke-dasharray="4,2,1,2"/><line x1="61.76" y1="256.50" x2="64.76" y2="256.50" stroke="#1496b9" stroke-width="1"/><line x1="61.76" y1="268.12" x2="64.76" y2="268.12" stroke="#1496b9" stroke-width="1"/><line x1="71.10" y1="257.17" x2="71.10" y2="252.65" stroke="#1496b9" stroke-width="1" stroke-dasharray="4,2,1,2"/><line x1="71.10" y1="257.17" x2="71.10" y2="263.69" stroke="#1496b9" stroke-width="1" stroke-dasharray="4,2,1,2"/><line x1="69.60" y1="252.65" x2="72.60" y2="252.65" stroke="#1496b9" stroke-width="1"/><line x1="69.60" y1="263.69" x2="72.60" y2="263.69" stroke="#1496b9" stroke-width="1"/><line x1="78.93" y1="262.37" x2="78.93" y2="256.86" stroke="#1496b9" stroke-width="1" stroke-dasharray="4,2,1,2"/><line x1="78.93" y1="262.37" x2="78.93" y2="269.18" stroke="#1496b9" stroke-width="1" stroke-dasharray="4,2,1,2"/><line x1="77.43" y1="256.86" x2="80.43" y2="256.86" stroke="#1496b9" stroke-width="1"/><line x1="77.43" y1="269.18" x2="80.43" y2="269.18" stroke="#1496b9" stroke-width="1"/><line x1="86.77" y1="261.15" x2="86.77" y2="255.87" stroke="#1496b9" stroke-width="1" stroke-dasharray="4,2,1,2"/><line x1="86.77" y1="261.15" x2="86.77" y2="268.48" stroke="#1496b9" stroke-width="1" stroke-dasharray="4,2,1,2"/><line x1="85.27" y1="255.87" x2="88.27" y2="255.87" stroke="#1496b9" stroke-width="1"/><line x1="85.27" y1="268.48" x2="88.27" y2="268.48" stroke="#1496b9" stroke-width="1"/><line x1="94.61" y1="259.77" x2="94.61" y2="254.53" stroke="#1496b9" stroke-width="1" stroke-dasharray="4,2,1,2"/><line x1="94.61" y1="259.77" x2="94.61" y2="267.28" stroke="#1496b9" stroke-width="1" stroke-dasharray="4,2,1,2"/><line x1="93.11" y1="254.53" x2="96.11" y2="254.53" stroke="#1496b9" stroke-width="1"/><line x1="93.11" y1="267.28" x2="96.11" y2="267.28" stroke="#1496b9" stroke-width="1"/><line x1="102.45" y1="274.04" x2="102.45" y2="276.36" stroke="#1496b9" stroke-width="1" stroke-dasharray="4,2,1,2"/><line x1="102.45" y1="274.04" x2="102.45" y2="284.47" stroke="#1496b9" stroke-width="1" stroke-dasharray="4,2,1,2"/><line x1="100.95" y1="276.36" x2="103.95" y2="276.36" stroke="#1496b9" stroke-width="1"/><line x1="100.95" y1="284.47" x2="103.95" y2="284.47" stroke="#1496b9" stroke-width="1"/><line x1="110.29" y1="258.37" x2="110.29" y2="253.44" stroke="#1496b9" stroke-width="1" stroke-dasharray="4,2,1,2"/><line x1="110.29" y1="258.37" x2="110.29" y2="264.66" stroke="#1496b9" stroke-width="1" stroke-dasharray="4,2,1,2"/><line x1="108.79" y1="253.44" x2="111.79" y2="253.44" stroke="#1496b9" stroke-width="1"/><line x1="108.79" y1="264.66" x2="111.79" y2="264.66" stroke="#1496b9" stroke-width="1"/><line x1="118.13" y1="255.58" x2="118.13" y2="251.15" stroke="#1496b9" stroke-width="1" stroke-dasharray="4,2,1,2"/><line x1="118.13" y1="255.58" x2="118.13" y2="261.84" stroke="#1496b9" stroke-width="1" stroke-dasharray="4,2,1,2"/><line x1="116.63" y1="251.15" x2="119.63" y2="251.15" stroke="#1496b9" stroke-width="1"/><line x1="116.63" y1="261.84" x2="119.63" y2="261.84" stroke="#1496b9" stroke-width="1"/><line x1="125.96" y1="257.26" x2="125.96" y2="252.65" stroke="#1496b9" stroke-width="1" stroke-dasharray="4,2,1,2"/><line x1="125.96" y1="257.26" x2="125.96" y2="263.52" stroke="#1496b9" stroke-width="1" stroke-dasharray="4,2,1,2"/><line x1="124.46" y1="252.65" x2="127.46" y2="252.65" stroke="#1496b9" stroke-width="1"/><line x1="124.46" y1="263.52" x2="127.46" y2="263.52" stroke="#1496b9" stroke-width="1"/><line x1="133.80" y1="249.78" x2="133.80" y2="245.52" stroke="#1496b9" stroke-width="1" stroke-dasharray="4,2,1,2"/><line x1="133.80" y1="249.78" x2="133.80" y2="255.23" stroke="#1496b9" stroke-width="1" stroke-dasharray="4,2,1,2"/><line x1="132.30" y1="245.52" x2="135.30" y2="245.52" stroke="#1496b9" stroke-width="1"/><line x1="132.30" y1="255.23" x2="135.30" y2="255.23" stroke="#1496b9" stroke-width="1"/><line x1="141.64" y1="257.18" x2="141.64" y2="252.78" stroke="#1496b9" stroke-width="1" stroke-dasharray="4,2,1,2"/><line x1="141.64" y1="257.18" x2="141.64" y2="263.64" stroke="#1496b9" stroke-width="1" stroke-dasharray="4,2,1,2"/><line x1="140.14" y1="252.78" x2="143.14" y2="252.78" stroke="#1496b9" stroke-width="1"/><line x1="140.14" y1="263.64" x2="143.14" y2="263.64" stroke="#1496b9" stroke-width="1"/><line x1="149.48" y1="259.96" x2="149.48" y2="254.95" stroke="#1496b9" stroke-width="1" stroke-dasharray="4,2,1,2"/><line x1="149.48" y1="259.96" x2="149.48" y2="266.48" stroke="#1496b9" stroke-width="1" stroke-dasharray="4,2,1,2"/><line x1="147.98" y1="254.95" x2="150.98" y2="254.95" stroke="#1496b9" stroke-width="1"/><line x1="147.98" y1="266.48" x2="150.98" y2="266.48" stroke="#1496b9" stroke-width="1"/><line x1="157.32" y1="255.80" x2="157.32" y2="251.02" stroke="#1496b9" stroke-width="1" stroke-dasharray="4,2,1,2"/><line x1="157.32" y1="255.80" x2="157.32" y2="261.51" stroke="#1496b9" stroke-width="1" stroke-dasharray="4,2,1,2"/><line x1="155.82" y1="251.02" x2="158.82" y2="251.02" stroke="#1496b9" stroke-width="1"/><line x1="155.82" y1="261.51" x2="158.82" y2="261.51" stroke="#1496b9" stroke-width="1"/><line x1="165.15" y1="246.52" x2="165.15" y2="242.67" stroke="#1496b9" stroke-width="1" stroke-dasharray="4,2,1,2"/><line x1="165.15" y1="246.52" x2="165.15" y2="251.51" stroke="#1496b9" stroke-width="1" stroke-dasharray="4,2,1,2"/><line x1="163.65" y1="242.67" x2="166.65" y2="242.67" stroke="#1496b9" stroke-width="1"/><line x1="163.65" y1="251.51" x2="166.65" y2="251.51" stroke="#1496b9" stroke-width="1"/><line x1="172.99" y1="246.91" x2="172.99" y2="242.85" stroke="#1496b9" stroke-width="1" stroke-dasharray="4,2,1,2"/><line x1="172.99" y1="246.91" x2="172.99" y2="251.95" stroke="#1496b9" stroke-width="1" stroke-dasharray="4,2,1,2"/><line x1="171.49" y1="242.85" x2="174.49" y2="242.85" stroke="#1496b9" stroke-width="1"/><line x1="171.49" y1="251.95" x2="174.49" y2="251.95" stroke="#1496b9" stroke-width="1"/><line x1="180.83" y1="249.31" x2="180.83" y2="245.75" stroke="#1496b9" stroke-width="1" stroke-dasharray="4,2,1,2"/><line x1="180.83" y1="249.31" x2="180.83" y2="254.64" stroke="#1496b9" stroke-width="1" stroke-dasharray="4,2,1,2"/><line x1="179.33" y1="245.75" x2="182.33" y2="245.75" stroke="#1496b9" stroke-width="1"/><line x1="179.33" y1="254.64" x2="182.33" y2="254.64" stroke="#1496b9" stroke-width="1"/><line x1="188.67" y1="238.31" x2="188.67" y2="235.01" stroke="#1496b9" stroke-width="1" stroke-dasharray="4,2,1,2"/><line x1="188.67" y1="238.31" x2="188.67" y2="242.40" stroke="#1496b9" stroke-width="1" stroke-dasharray="4,2,1,2"/><line x1="187.17" y1="235.01" x2="190.17" y2="235.01" stroke="#1496b9" stroke-width="1"/><line x1="187.17" y1="242.40" x2="190.17" y2="242.40" stroke="#1496b9" stroke-width="1"/><line x1="196.51" y1="241.69" x2="196.51" y2="238.18" stroke="#1496b9" stroke-width="1" stroke-dasharray="4,2,1,2"/><line x1="196.51" y1="241.69" x2="196.51" y2="246.04" stroke="#1496b9" stroke-width="1" stroke-dasharray="4,2,1,2"/><line x1="195.01" y1="238.18" x2="198.01" y2="238.18" stroke="#1496b9" stroke-width="1"/><line x1="195.01" y1="246.04" x2="198.01" y2="246.04" stroke="#1496b9" stroke-width="1"/><line x1="204.35" y1="240.64" x2="204.35" y2="237.19" stroke="#1496b9" stroke-width="1" stroke-dasharray="4,2,1,2"/><line x1="204.35" y1="240.64" x2="204.35" y2="245.01" stroke="#1496b9" stroke-width="1" stroke-dasharray="4,2,1,2"/><line x1="202.85" y1="237.19" x2="205.85" y2="237.19" stroke="#1496b9" stroke-width="1"/><line x1="202.85" y1="245.01" x2="205.85" y2="245.01" stroke="#1496b9" stroke-width="1"/><line x1="212.18" y1="238.90" x2="212.18" y2="235.65" stroke="#1496b9" stroke-width="1" stroke-dasharray="4,2,1,2"/><line x1="212.18" y1="238.90" x2="212.18" y2="243.36" stroke="#1496b9" stroke-width="1" stroke-dasharray="4,2,1,2"/><line x1="210.68" y1="235.65" x2="213.68" y2="235.65" stroke="#1496b9" stroke-width="1"/><line x1="210.68" y1="243.36" x2="213.68" y2="243.36" stroke="#1496b9" stroke-width="1"/><line x1="220.02" y1="238.73" x2="220.02" y2="235.57" stroke="#1496b9" stroke-width="1" stroke-dasharray="4,2,1,2"/><line x1="220.02" y1="238.73" x2="220.02" y2="243.05" stroke="#1496b9" stroke-width="1" stroke-dasharray="4,2,1,2"/><line x1="218.52" y1="235.57" x2="221.52" y2="235.57" stroke="#1496b9" stroke-width="1"/><line x1="218.52" y1="243.05" x2="221.52" y2="243.05" stroke="#1496b9" stroke-width="1"/><line x1="227.86" y1="232.76" x2="227.86" y2="229.95" stroke="#1496b9" stroke-width="1" stroke-dasharray="4,2,1,2"/><line x1="227.86" y1="232.76" x2="227.86" y2="236.44" stroke="#1496b9" stroke-width="1" stroke-dasharray="4,2,1,2"/><line x1="226.36" y1="229.95" x2="229.36" y2="229.95" stroke="#1496b9" stroke-width="1"/><line x1="226.36" y1="236.44" x2="229.36" y2="236.44" stroke="#1496b9" stroke-width="1"/><line x1="235.70" y1="229.94" x2="235.70" y2="227.22" stroke="#1496b9" stroke-width="1" stroke-dasharray="4,2,1,2"/><line x1="235.70" y1="229.94" x2="235.70" y2="233.79" stroke="#1496b9" stroke-width="1" stroke-dasharray="4,2,1,2"/><line x1="234.20" y1="227.22" x2="237.20" y2="227.22" stroke="#1496b9" stroke-width="1"/><line x1="234.20" y1="233.79" x2="237.20" y2="233.79" stroke="#1496b9" stroke-width="1"/><line x1="243.54" y1="224.91" x2="243.54" y2="222.07" stroke="#1496b9" stroke-width="1" stroke-dasharray="4,2,1,2"/><line x1="243.54" y1="224.91" x2="243.54" y2="227.87" stroke="#1496b9" stroke-width="1" stroke-dasharray="4,2,1,2"/><line x1="242.04" y1="222.07" x2="245.04" y2="222.07" stroke="#1496b9" stroke-width="1"/><line x1="242.04" y1="227.87" x2="245.04" y2="227.87" stroke="#1496b9" stroke-width="1"/><line x1="251.38" y1="221.15" x2="251.38" y2="218.75" stroke="#1496b9" stroke-width="1" stroke-dasharray="4,2,1,2"/><line x1="251.38" y1="221.15" x2="251.38" y2="224.20" stroke="#1496b9" stroke-width="1" stroke-dasharray="4,2,1,2"/><line x1="249.88" y1="218.75" x2="252.88" y2="218.75" stroke="#1496b9" stroke-width="1"/><line x1="249.88" y1="224.20" x2="252.88" y2="224.20" stroke="#1496b9" stroke-width="1"/><line x1="259.21" y1="221.04" x2="259.21" y2="218.63" stroke="#1496b9" stroke-width="1" stroke-dasharray="4,2,1,2"/><line x1="259.21" y1="221.04" x2="259.21" y2="224.05" stroke="#1496b9" stroke-width="1" stroke-dasharray="4,2,1,2"/><line x1="257.71" y1="218.63" x2="260.71" y2="218.63" stroke="#1496b9" stroke-width="1"/><line x1="257.71" y1="224.05" x2="260.71" y2="224.05" stroke="#1496b9" stroke-width="1"/><line x1="267.05" y1="210.11" x2="267.05" y2="208.17" stroke="#1496b9" stroke-width="1" stroke-dasharray="4,2,1,2"/><line x1="267.05" y1="210.11" x2="267.05" y2="212.37" stroke="#1496b9" stroke-width="1" stroke-dasharray="4,2,1,2"/><line x1="265.55" y1="208.17" x2="268.55" y2="208.17" stroke="#1496b9" stroke-width="1"/><line x1="265.55" y1="212.37" x2="268.55" y2="212.37" stroke="#1496b9" stroke-width="1"/><line x1="274.89" y1="207.91" x2="274.89" y2="206.23" stroke="#1496b9" stroke-width="1" stroke-dasharray="4,2,1,2"/><line x1="274.89" y1="207.91" x2="274.89" y2="210.17" stroke="#1496b9" stroke-width="1" stroke-dasharray="4,2,1,2"/><line x1="273.39" y1="206.23" x2="276.39" y2="206.23" stroke="#1496b9" stroke-width="1"/><line x1="273.39" y1="210.17" x2="276.39" y2="210.17" stroke="#1496b9" stroke-width="1"/><line x1="282.73" y1="204.91" x2="282.73" y2="203.32" stroke="#1496b9" stroke-width="1" stroke-dasharray="4,2,1,2"/><line x1="282.73" y1="204.91" x2="282.73" y2="207.29" stroke="#1496b9" stroke-width="1" stroke-dasharray="4,2,1,2"/><line x1="281.23" y1="203.32" x2="284.23" y2="203.32" stroke="#1496b9" stroke-width="1"/><line x1="281.23" y1="207.29" x2="284.23" y2="207.29" stroke="#1496b9" stroke-width="1"/><line x1="290.57" y1="199.44" x2="290.57" y2="198.11" stroke="#1496b9" stroke-width="1" stroke-dasharray="4,2,1,2"/><line x1="290.57" y1="199.44" x2="290.57" y2="201.55" stroke="#1496b9" stroke-width="1" stroke-dasharray="4,2,1,2"/><line x1="289.07" y1="198.11" x2="292.07" y2="198.11" stroke="#1496b9" stroke-width="1"/><line x1="289.07" y1="201.55" x2="292.07" y2="201.55" stroke="#1496b9" stroke-width="1"/><line x1="298.41" y1="192.17" x2="298.41" y2="190.95" stroke="#1496b9" stroke-width="1" stroke-dasharray="4,2,1,2"/><line x1="298.41" y1="192.17" x2="298.41" y2="193.82" stroke="#1496b9" stroke-width="1" stroke-dasharray="4,2,1,2"/><line x1="296.91" y1="190.95" x2="299.91" y2="190.95" stroke="#1496b9" stroke-width="1"/><line x1="296.91" y1="193.82" x2="299.91" y2="193.82" stroke="#1496b9" stroke-width="1"/><line x1="306.24" y1="188.13" x2="306.24" y2="187.11" stroke="#1496b9" stroke-width="1" stroke-dasharray="4,2,1,2"/><line x1="306.24" y1="188.13" x2="306.24" y2="189.75" stroke="#1496b9" stroke-width="1" stroke-dasharray="4,2,1,2"/><line x1="304.74" y1="187.11" x2="307.74" y2="187.11" stroke="#1496b9" stroke-width="1"/><line x1="304.74" y1="189.75" x2="307.74" y2="189.75" stroke="#1496b9" stroke-width="1"/><line x1="314.08" y1="177.73" x2="314.08" y2="176.92" stroke="#1496b9" stroke-width="1" stroke-dasharray="4,2,1,2"/><line x1="314.08" y1="177.73" x2="314.08" y2="178.60" stroke="#1496b9" stroke-width="1" stroke-dasharray="4,2,1,2"/><line x1="312.58" y1="176.92" x2="315.58" y2="176.92" stroke="#1496b9" stroke-width="1"/><line x1="312.58" y1="178.60" x2="315.58" y2="178.60" stroke="#1496b9" stroke-width="1"/><line x1="321.92" y1="170.10" x2="321.92" y2="169.50" stroke="#1496b9" stroke-width="1" stroke-dasharray="4,2,1,2"/><line x1="321.92" y1="170.10" x2="321.92" y2="171.12" stroke="#1496b9" stroke-width="1" stroke-dasharray="4,2,1,2"/><line x1="320.42" y1="169.50" x2="323.42" y2="169.50" stroke="#1496b9" stroke-width="1"/><line x1="320.42" y1="171.12" x2="323.42" y2="171.12" stroke="#1496b9" stroke-width="1"/><line x1="329.76" y1="163.04" x2="329.76" y2="162.51" stroke="#1496b9" stroke-width="1" stroke-dasharray="4,2,1,2"/><line x1="329.76" y1="163.04" x2="329.76" y2="164.05" stroke="#1496b9" stroke-width="1" stroke-dasharray="4,2,1,2"/><line x1="328.26" y1="162.51" x2="331.26" y2="162.51" stroke="#1496b9" stroke-width="1"/><line x1="328.26" y1="164.05" x2="331.26" y2="164.05" stroke="#1496b9" stroke-width="1"/><line x1="337.60" y1="152.20" x2="337.60" y2="151.44" stroke="#1496b9" stroke-width="1" stroke-dasharray="4,2,1,2"/><line x1="337.60" y1="152.20" x2="337.60" y2="153.04" stroke="#1496b9" stroke-width="1" stroke-dasharray="4,2,1,2"/><line x1="336.10" y1="151.44" x2="339.10" y2="151.44" stroke="#1496b9" stroke-width="1"/><line x1="336.10" y1="153.04" x2="339.10" y2="153.04" stroke="#1496b9" stroke-width="1"/><line x1="345.44" y1="140.53" x2="345.44" y2="139.95" stroke="#1496b9" stroke-width="1" stroke-dasharray="4,2,1,2"/><line x1="345.44" y1="140.53" x2="345.44" y2="141.26" stroke="#1496b9" stroke-width="1" stroke-dasharray="4,2,1,2"/><line x1="343.94" y1="139.95" x2="346.94" y2="139.95" stroke="#1496b9" stroke-width="1"/><line x1="343.94" y1="141.26" x2="346.94" y2="141.26" stroke="#1496b9" stroke-width="1"/><line x1="353.27" y1="124.37" x2="353.27" y2="123.93" stroke="#1496b9" stroke-width="1" stroke-dasharray="4,2,1,2"/><line x1="353.27" y1="124.37" x2="353.27" y2="124.80" stroke="#1496b9" stroke-width="1" stroke-dasharray="4,2,1,2"/><line x1="351.77" y1="123.93" x2="354.77" y2="123.93" stroke="#1496b9" stroke-width="1"/><line x1="351.77" y1="124.80" x2="354.77" y2="124.80" stroke="#1496b9" stroke-width="1"/><line x1="361.11" y1="104.47" x2="361.11" y2="104.12" stroke="#1496b9" stroke-width="1" stroke-dasharray="4,2,1,2"/><line x1="361.11" y1="104.47" x2="361.11" y2="104.82" stroke="#1496b9" stroke-width="1" stroke-dasharray="4,2,1,2"/><line x1="359.61" y1="104.12" x2="362.61" y2="104.12" stroke="#1496b9" stroke-width="1"/><line x1="359.61" y1="104.82" x2="362.61" y2="104.82" stroke="#1496b9" stroke-width="1"/><path d="M52.42,259.26 L58.42,259.26 L55.42,264.76 Z" fill="#1496b9"/><path d="M60.26,258.71 L66.26,258.71 L63.26,264.21 Z" fill="#1496b9"/><path d="M68.10,254.57 L74.10,254.57 L71.10,260.07 Z" fill="#1496b9"/><path d="M75.93,259.77 L81.93,259.77 L78.93,265.27 Z" fill="#1496b9"/><path d="M83.77,258.55 L89.77,258.55 L86.77,264.05 Z" fill="#1496b9"/><path d="M91.61,257.17 L97.61,257.17 L94.61,262.67 Z" fill="#1496b9"/><path d="M99.45,271.44 L105.45,271.44 L102.45,276.94 Z" fill="#1496b9"/><path d="M107.29,255.77 L113.29,255.77 L110.29,261.27 Z" fill="#1496b9"/><path d="M115.13,252.98 L121.13,252.98 L118.13,258.48 Z" fill="#1496b9"/><path d="M122.96,254.66 L128.96,254.66 L125.96,260.16 Z" fill="#1496b9"/><path d="M130.80,247.18 L136.80,247.18 L133.80,252.68 Z" fill="#1496b9"/><path d="M138.64,254.58 L144.64,254.58 L141.64,260.08 Z" fill="#1496b9"/><path d="M146.48,257.36 L152.48,257.36 L149.48,262.86 Z" fill="#1496b9"/><path d="M154.32,253.20 L160.32,253.20 L157.32,258.70 Z" fill="#1496b9"/><path d="M162.15,243.92 L168.15,243.92 L165.15,249.42 Z" fill="#1496b9"/><path d="M169.99,244.31 L175.99,244.31 L172.99,249.81 Z" fill="#1496b9"/><path d="M177.83,246.71 L183.83,246.71 L180.83,252.21 Z" fill="#1496b9"/><path d="M185.67,235.71 L191.67,235.71 L188.67,241.21 Z" fill="#1496b9"/><path d="M193.51,239.09 L199.51,239.09 L196.51,244.59 Z" fill="#1496b9"/><path d="M201.35,238.04 L207.35,238.04 L204.35,243.54 Z" fill="#1496b9"/><path d="M209.18,236.30 L215.18,236.30 L212.18,241.80 Z" fill="#1496b9"/><path d="M217.02,236.13 L223.02,236.13 L220.02,241.63 Z" fill="#1496b9"/><path d="M224.86,230.16 L230.86,230.16 L227.86,235.66 Z" fill="#1496b9"/><path d="M232.70,227.34 L238.70,227.34 L235.70,232.84 Z" fill="#1496b9"/><path d="M240.54,222.31 L246.54,222.31 L243.54,227.81 Z" fill="#1496b9"/><path d="M248.38,218.55 L254.38,218.55 L251.38,224.05 Z" fill="#1496b9"/><path d="M256.21,218.44 L262.21,218.44 L259.21,223.94 Z" fill="#1496b9"/><path d="M264.05,207.51 L270.05,207.51 L267.05,213.01 Z" fill="#1496b9"/><path d="M271.89,205.31 L277.89,205.31 L274.89,210.81 Z" fill="#1496b9"/><path d="M279.73,202.31 L285.73,202.31 L282.73,207.81 Z" fill="#1496b9"/><path d="M287.57,196.84 L293.57,196.84 L290.57,202.34 Z" fill="#1496b9"/><path d="M295.41,189.57 L301.41,189.57 L298.41,195.07 Z" fill="#1496b9"/><path d="M303.24,185.53 L309.24,185.53 L306.24,191.03 Z" fill="#1496b9"/><path d="M311.08,175.13 L317.08,175.13 L314.08,180.63 Z" fill="#1496b9"/><path d="M318.92,167.50 L324.92,167.50 L321.92,173.00 Z" fill="#1496b9"/><path d="M326.76,160.44 L332.76,160.44 L329.76,165.94 Z" fill="#1496b9"/><path d="M334.60,149.60 L340.60,149.60 L337.60,155.10 Z" fill="#1496b9"/><path d="M342.44,137.93 L348.44,137.93 L345.44,143.43 Z" fill="#1496b9"/><path d="M350.27,121.77 L356.27,121.77 L353.27,127.27 Z" fill="#1496b9"/><path d="M358.11,101.87 L364.11,101.87 L361.11,107.37 Z" fill="#1496b9"/></g>
<line x1="45.60" y1="306.81" x2="51.40" y2="306.81" stroke="#000" stroke-width="1.0"/><line x1="371.20" y1="306.81" x2="365.40" y2="306.81" stroke="#000" stroke-width="1.0"/><line x1="45.60" y1="299.52" x2="51.40" y2="299.52" stroke="#000" stroke-width="1.0"/><line x1="371.20" y1="299.52" x2="365.40" y2="299.52" stroke="#000" stroke-width="1.0"/><line x1="45.60" y1="293.87" x2="51.40" y2="293.87" stroke="#000" stroke-width="1.0"/><line x1="371.20" y1="293.87" x2="365.40" y2="293.87" stroke="#000" stroke-width="1.0"/><line x1="45.60" y1="289.25" x2="51.40" y2="289.25" stroke="#000" stroke-width="1.0"/><line x1="371.20" y1="289.25" x2="365.40" y2="289.25" stroke="#000" stroke-width="1.0"/><line x1="45.60" y1="285.35" x2="51.40" y2="285.35" stroke="#000" stroke-width="1.0"/><line x1="371.20" y1="285.35" x2="365.40" y2="285.35" stroke="#000" stroke-width="1.0"/><line x1="45.60" y1="281.96" x2="51.40" y2="281.96" stroke="#000" stroke-width="1.0"/><line x1="371.20" y1="281.96" x2="365.40" y2="281.96" stroke="#000" stroke-width="1.0"/><line x1="45.60" y1="278.98" x2="51.40" y2="278.98" stroke="#000" stroke-width="1.0"/><line x1="371.20" y1="278.98" x2="365.40" y2="278.98" stroke="#000" stroke-width="1.0"/><line x1="45.60" y1="276.31" x2="57.00" y2="276.31" stroke="#000" stroke-width="1.0"/><line x1="371.20" y1="276.31" x2="359.80" y2="276.31" stroke="#000" stroke-width="1.0"/><line x1="45.60" y1="258.75" x2="51.40" y2="258.75" stroke="#000" stroke-width="1.0"/><line x1="371.20" y1="258.75" x2="365.40" y2="258.75" stroke="#000" stroke-width="1.0"/><line x1="45.60" y1="248.48" x2="51.40" y2="248.48" stroke="#000" stroke-width="1.0"/><line x1="371.20" y1="248.48" x2="365.40" y2="248.48" stroke="#000" stroke-width="1.0"/><line x1="45.60" y1="241.19" x2="51.40" y2="241.19" stroke="#000" stroke-width="1.0"/><line x1="371.20" y1="241.19" x2="365.40" y2="241.19" stroke="#000" stroke-width="1.0"/><line x1="45.60" y1="235.54" x2="51.40" y2="235.54" stroke="#000" stroke-width="1.0"/><line x1="371.20" y1="235.54" x2="365.40" y2="235.54" stroke="#000" stroke-width="1.0"/><line x1="45.60" y1="230.92" x2="51.40" y2="230.92" stroke="#000" stroke-width="1.0"/><line x1="371.20" y1="230.92" x2="365.40" y2="230.92" stroke="#000" stroke-width="1.0"/><line x1="45.60" y1="227.02" x2="51.40" y2="227.02" stroke="#000" stroke-width="1.0"/><line x1="371.20" y1="227.02" x2="365.40" y2="227.02" stroke="#000" stroke-width="1.0"/><line x1="45.60" y1="223.63" x2="51.40" y2="223.63" stroke="#000" stroke-width="1.0"/><line x1="371.20" y1="223.63" x2="365.40" y2="223.63" stroke="#000" stroke-width="1.0"/><line x1="45.60" y1="220.65" x2="51.40" y2="220.65" stroke="#000" stroke-width="1.0"/><line x1="371.20" y1="220.65" x2="365.40" y2="220.65" stroke="#000" stroke-width="1.0"/><line x1="45.60" y1="217.98" x2="57.00" y2="217.98" stroke="#000" stroke-width="1.0"/><line x1="371.20" y1="217.98" x2="359.80" y2="217.98" stroke="#000" stroke-width="1.0"/><line x1="45.60" y1="200.42" x2="51.40" y2="200.42" stroke="#000" stroke-width="1.0"/><line x1="371.20" y1="200.42" x2="365.40" y2="200.42" stroke="#000" stroke-width="1.0"/><line x1="45.60" y1="190.15" x2="51.40" y2="190.15" stroke="#000" stroke-width="1.0"/><line x1="371.20" y1="190.15" x2="365.40" y2="190.15" stroke="#000" stroke-width="1.0"/><line x1="45.60" y1="182.86" x2="51.40" y2="182.86" stroke="#000" stroke-width="1.0"/><line x1="371.20" y1="182.86" x2="365.40" y2="182.86" stroke="#000" stroke-width="1.0"/><line x1="45.60" y1="177.21" x2="51.40" y2="177.21" stroke="#000" stroke-width="1.0"/><line x1="371.20" y1="177.21" x2="365.40" y2="177.21" stroke="#000" stroke-width="1.0"/><line x1="45.60" y1="172.59" x2="51.40" y2="172.59" stroke="#000" stroke-width="1.0"/><line x1="371.20" y1="172.59" x2="365.40" y2="172.59" stroke="#000" stroke-width="1.0"/><line x1="45.60" y1="168.69" x2="51.40" y2="168.69" stroke="#000" stroke-width="1.0"/><line x1="371.20" y1="168.69" x2="365.40" y2="168.69" stroke="#000" stroke-width="1.0"/><line x1="45.60" y1="165.30" x2="51.40" y2="165.30" stroke="#000" stroke-width="1.0"/><line x1="371.20" y1="165.30" x2="365.40" y2="165.30" stroke="#000" stroke-width="1.0"/><line x1="45.60" y1="162.32" x2="51.40" y2="162.32" stroke="#000" stroke-width="1.0"/><line x1="371.20" y1="162.32" x2="365.40" y2="162.32" stroke="#000" stroke-width="1.0"/><line x1="45.60" y1="159.65" x2="57.00" y2="159.65" stroke="#000" stroke-width="1.0"/><line x1="371.20" y1="159.65" x2="359.80" y2="159.65" stroke="#000" stroke-width="1.0"/><line x1="45.60" y1="142.09" x2="51.40" y2="142.09" stroke="#000" stroke-width="1.0"/><line x1="371.20" y1="142.09" x2="365.40" y2="142.09" stroke="#000" stroke-width="1.0"/><line x1="45.60" y1="131.82" x2="51.40" y2="131.82" stroke="#000" stroke-width="1.0"/><line x1="371.20" y1="131.82" x2="365.40" y2="131.82" stroke="#000" stroke-width="1.0"/><line x1="45.60" y1="124.53" x2="51.40" y2="124.53" stroke="#000" stroke-width="1.0"/><line x1="371.20" y1="124.53" x2="365.40" y2="124.53" stroke="#000" stroke-width="1.0"/><line x1="45.60" y1="118.88" x2="51.40" y2="118.88" stroke="#000" stroke-width="1.0"/><line x1="371.20" y1="118.88" x2="365.40" y2="118.88" stroke="#000" stroke-width="1.0"/><line x1="45.60" y1="114.26" x2="51.40" y2="114.26" stroke="#000" stroke-width="1.0"/><line x1="371.20" y1="114.26" x2="365.40" y2="114.26" stroke="#000" stroke-width="1.0"/><line x1="45.60" y1="110.36" x2="51.40" y2="110.36" stroke="#000" stroke-width="1.0"/><line x1="371.20" y1="110.36" x2="365.40" y2="110.36" stroke="#000" stroke-width="1.0"/><line x1="45.60" y1="106.97" x2="51.40" y2="106.97" stroke="#000" stroke-width="1.0"/><line x1="371.20" y1="106.97" x2="365.40" y2="106.97" stroke="#000" stroke-width="1.0"/><line x1="45.60" y1="103.99" x2="51.40" y2="103.99" stroke="#000" stroke-width="1.0"/><line x1="371.20" y1="103.99" x2="365.40" y2="103.99" stroke="#000" stroke-width="1.0"/><line x1="45.60" y1="101.32" x2="57.00" y2="101.32" stroke="#000" stroke-width="1.0"/><line x1="371.20" y1="101.32" x2="359.80" y2="101.32" stroke="#000" stroke-width="1.0"/><line x1="45.60" y1="83.76" x2="51.40" y2="83.76" stroke="#000" stroke-width="1.0"/><line x1="371.20" y1="83.76" x2="365.40" y2="83.76" stroke="#000" stroke-width="1.0"/><line x1="45.60" y1="73.49" x2="51.40" y2="73.49" stroke="#000" stroke-width="1.0"/><line x1="371.20" y1="73.49" x2="365.40" y2="73.49" stroke="#000" stroke-width="1.0"/><line x1="45.60" y1="66.20" x2="51.40" y2="66.20" stroke="#000" stroke-width="1.0"/><line x1="371.20" y1="66.20" x2="365.40" y2="66.20" stroke="#000" stroke-width="1.0"/><line x1="45.60" y1="60.55" x2="51.40" y2="60.55" stroke="#000" stroke-width="1.0"/><line x1="371.20" y1="60.55" x2="365.40" y2="60.55" stroke="#000" stroke-width="1.0"/><line x1="45.60" y1="55.93" x2="51.40" y2="55.93" stroke="#000" stroke-width="1.0"/><line x1="371.20" y1="55.93" x2="365.40" y2="55.93" stroke="#000" stroke-width="1.0"/><line x1="45.60" y1="52.03" x2="51.40" y2="52.03" stroke="#000" stroke-width="1.0"/><line x1="371.20" y1="52.03" x2="365.40" y2="52.03" stroke="#000" stroke-width="1.0"/><line x1="45.60" y1="48.64" x2="51.40" y2="48.64" stroke="#000" stroke-width="1.0"/><line x1="371.20" y1="48.64" x2="365.40" y2="48.64" stroke="#000" stroke-width="1.0"/><line x1="45.60" y1="45.66" x2="51.40" y2="45.66" stroke="#000" stroke-width="1.0"/><line x1="371.20" y1="45.66" x2="365.40" y2="45.66" stroke="#000" stroke-width="1.0"/><line x1="45.60" y1="42.99" x2="57.00" y2="42.99" stroke="#000" stroke-width="1.0"/><line x1="371.20" y1="42.99" x2="359.80" y2="42.99" stroke="#000" stroke-width="1.0"/><line x1="45.60" y1="25.43" x2="51.40" y2="25.43" stroke="#000" stroke-width="1.0"/><line x1="371.20" y1="25.43" x2="365.40" y2="25.43" stroke="#000" stroke-width="1.0"/><line x1="45.60" y1="458.20" x2="53.10" y2="458.20" stroke="#000" stroke-width="1.0"/><line x1="371.20" y1="458.20" x2="363.70" y2="458.20" stroke="#000" stroke-width="1.0"/><line x1="45.60" y1="442.26" x2="50.80" y2="442.26" stroke="#000" stroke-width="1.0"/><line x1="371.20" y1="442.26" x2="366.00" y2="442.26" stroke="#000" stroke-width="1.0"/><line x1="45.60" y1="428.78" x2="50.80" y2="428.78" stroke="#000" stroke-width="1.0"/><line x1="371.20" y1="428.78" x2="366.00" y2="428.78" stroke="#000" stroke-width="1.0"/><line x1="45.60" y1="417.11" x2="50.80" y2="417.11" stroke="#000" stroke-width="1.0"/><line x1="371.20" y1="417.11" x2="366.00" y2="417.11" stroke="#000" stroke-width="1.0"/><line x1="45.60" y1="406.81" x2="50.80" y2="406.81" stroke="#000" stroke-width="1.0"/><line x1="371.20" y1="406.81" x2="366.00" y2="406.81" stroke="#000" stroke-width="1.0"/><line x1="45.60" y1="397.60" x2="53.10" y2="397.60" stroke="#000" stroke-width="1.0"/><line x1="371.20" y1="397.60" x2="363.70" y2="397.60" stroke="#000" stroke-width="1.0"/><line x1="45.60" y1="389.27" x2="50.80" y2="389.27" stroke="#000" stroke-width="1.0"/><line x1="371.20" y1="389.27" x2="366.00" y2="389.27" stroke="#000" stroke-width="1.0"/><line x1="45.60" y1="381.66" x2="50.80" y2="381.66" stroke="#000" stroke-width="1.0"/><line x1="371.20" y1="381.66" x2="366.00" y2="381.66" stroke="#000" stroke-width="1.0"/><line x1="45.60" y1="374.66" x2="50.80" y2="374.66" stroke="#000" stroke-width="1.0"/><line x1="371.20" y1="374.66" x2="366.00" y2="374.66" stroke="#000" stroke-width="1.0"/><line x1="45.60" y1="368.18" x2="50.80" y2="368.18" stroke="#000" stroke-width="1.0"/><line x1="371.20" y1="368.18" x2="366.00" y2="368.18" stroke="#000" stroke-width="1.0"/><line x1="45.60" y1="362.15" x2="50.80" y2="362.15" stroke="#000" stroke-width="1.0"/><line x1="371.20" y1="362.15" x2="366.00" y2="362.15" stroke="#000" stroke-width="1.0"/><line x1="45.60" y1="356.51" x2="50.80" y2="356.51" stroke="#000" stroke-width="1.0"/><line x1="371.20" y1="356.51" x2="366.00" y2="356.51" stroke="#000" stroke-width="1.0"/><line x1="45.60" y1="351.21" x2="50.80" y2="351.21" stroke="#000" stroke-width="1.0"/><line x1="371.20" y1="351.21" x2="366.00" y2="351.21" stroke="#000" stroke-width="1.0"/><line x1="45.60" y1="346.21" x2="50.80" y2="346.21" stroke="#000" stroke-width="1.0"/><line x1="371.20" y1="346.21" x2="366.00" y2="346.21" stroke="#000" stroke-width="1.0"/><line x1="45.60" y1="341.49" x2="50.80" y2="341.49" stroke="#000" stroke-width="1.0"/><line x1="371.20" y1="341.49" x2="366.00" y2="341.49" stroke="#000" stroke-width="1.0"/><line x1="45.60" y1="337.00" x2="53.10" y2="337.00" stroke="#000" stroke-width="1.0"/><line x1="371.20" y1="337.00" x2="363.70" y2="337.00" stroke="#000" stroke-width="1.0"/><line x1="45.60" y1="332.74" x2="50.80" y2="332.74" stroke="#000" stroke-width="1.0"/><line x1="371.20" y1="332.74" x2="366.00" y2="332.74" stroke="#000" stroke-width="1.0"/><line x1="45.60" y1="328.67" x2="50.80" y2="328.67" stroke="#000" stroke-width="1.0"/><line x1="371.20" y1="328.67" x2="366.00" y2="328.67" stroke="#000" stroke-width="1.0"/><line x1="45.60" y1="324.78" x2="50.80" y2="324.78" stroke="#000" stroke-width="1.0"/><line x1="371.20" y1="324.78" x2="366.00" y2="324.78" stroke="#000" stroke-width="1.0"/><line x1="45.60" y1="321.06" x2="50.80" y2="321.06" stroke="#000" stroke-width="1.0"/><line x1="371.20" y1="321.06" x2="366.00" y2="321.06" stroke="#000" stroke-width="1.0"/><line x1="51.50" y1="17.40" x2="51.50" y2="26.00" stroke="#000" stroke-width="1.4"/><line x1="51.50" y1="317.40" x2="51.50" y2="310.10" stroke="#000" stroke-width="1.4"/><line x1="51.50" y1="317.40" x2="51.50" y2="322.40" stroke="#000" stroke-width="1.4"/><line x1="51.50" y1="477.60" x2="51.50" y2="472.80" stroke="#000" stroke-width="1.4"/><line x1="61.48" y1="17.40" x2="61.48" y2="19.40" stroke="#000" stroke-width="1.0"/><line x1="61.48" y1="317.40" x2="61.48" y2="315.40" stroke="#000" stroke-width="1.0"/><line x1="61.48" y1="317.40" x2="61.48" y2="319.40" stroke="#000" stroke-width="1.0"/><line x1="61.48" y1="477.60" x2="61.48" y2="475.60" stroke="#000" stroke-width="1.0"/><line x1="71.46" y1="17.40" x2="71.46" y2="21.40" stroke="#000" stroke-width="1.0"/><line x1="71.46" y1="317.40" x2="71.46" y2="313.90" stroke="#000" stroke-width="1.0"/><line x1="71.46" y1="317.40" x2="71.46" y2="320.90" stroke="#000" stroke-width="1.0"/><line x1="71.46" y1="477.60" x2="71.46" y2="474.60" stroke="#000" stroke-width="1.0"/><line x1="81.44" y1="17.40" x2="81.44" y2="19.40" stroke="#000" stroke-width="1.0"/><line x1="81.44" y1="317.40" x2="81.44" y2="315.40" stroke="#000" stroke-width="1.0"/><line x1="81.44" y1="317.40" x2="81.44" y2="319.40" stroke="#000" stroke-width="1.0"/><line x1="81.44" y1="477.60" x2="81.44" y2="475.60" stroke="#000" stroke-width="1.0"/><line x1="91.42" y1="17.40" x2="91.42" y2="21.40" stroke="#000" stroke-width="1.0"/><line x1="91.42" y1="317.40" x2="91.42" y2="313.90" stroke="#000" stroke-width="1.0"/><line x1="91.42" y1="317.40" x2="91.42" y2="320.90" stroke="#000" stroke-width="1.0"/><line x1="91.42" y1="477.60" x2="91.42" y2="474.60" stroke="#000" stroke-width="1.0"/><line x1="101.40" y1="17.40" x2="101.40" y2="19.40" stroke="#000" stroke-width="1.0"/><line x1="101.40" y1="317.40" x2="101.40" y2="315.40" stroke="#000" stroke-width="1.0"/><line x1="101.40" y1="317.40" x2="101.40" y2="319.40" stroke="#000" stroke-width="1.0"/><line x1="101.40" y1="477.60" x2="101.40" y2="475.60" stroke="#000" stroke-width="1.0"/><line x1="111.38" y1="17.40" x2="111.38" y2="21.40" stroke="#000" stroke-width="1.0"/><line x1="111.38" y1="317.40" x2="111.38" y2="313.90" stroke="#000" stroke-width="1.0"/><line x1="111.38" y1="317.40" x2="111.38" y2="320.90" stroke="#000" stroke-width="1.0"/><line x1="111.38" y1="477.60" x2="111.38" y2="474.60" stroke="#000" stroke-width="1.0"/><line x1="121.36" y1="17.40" x2="121.36" y2="19.40" stroke="#000" stroke-width="1.0"/><line x1="121.36" y1="317.40" x2="121.36" y2="315.40" stroke="#000" stroke-width="1.0"/><line x1="121.36" y1="317.40" x2="121.36" y2="319.40" stroke="#000" stroke-width="1.0"/><line x1="121.36" y1="477.60" x2="121.36" y2="475.60" stroke="#000" stroke-width="1.0"/><line x1="131.34" y1="17.40" x2="131.34" y2="21.40" stroke="#000" stroke-width="1.0"/><line x1="131.34" y1="317.40" x2="131.34" y2="313.90" stroke="#000" stroke-width="1.0"/><line x1="131.34" y1="317.40" x2="131.34" y2="320.90" stroke="#000" stroke-width="1.0"/><line x1="131.34" y1="477.60" x2="131.34" y2="474.60" stroke="#000" stroke-width="1.0"/><line x1="141.32" y1="17.40" x2="141.32" y2="19.40" stroke="#000" stroke-width="1.0"/><line x1="141.32" y1="317.40" x2="141.32" y2="315.40" stroke="#000" stroke-width="1.0"/><line x1="141.32" y1="317.40" x2="141.32" y2="319.40" stroke="#000" stroke-width="1.0"/><line x1="141.32" y1="477.60" x2="141.32" y2="475.60" stroke="#000" stroke-width="1.0"/><line x1="151.30" y1="17.40" x2="151.30" y2="26.00" stroke="#000" stroke-width="1.4"/><line x1="151.30" y1="317.40" x2="151.30" y2="310.10" stroke="#000" stroke-width="1.4"/><line x1="151.30" y1="317.40" x2="151.30" y2="322.40" stroke="#000" stroke-width="1.4"/><line x1="151.30" y1="477.60" x2="151.30" y2="472.80" stroke="#000" stroke-width="1.4"/><line x1="161.28" y1="17.40" x2="161.28" y2="19.40" stroke="#000" stroke-width="1.0"/><line x1="161.28" y1="317.40" x2="161.28" y2="315.40" stroke="#000" stroke-width="1.0"/><line x1="161.28" y1="317.40" x2="161.28" y2="319.40" stroke="#000" stroke-width="1.0"/><line x1="161.28" y1="477.60" x2="161.28" y2="475.60" stroke="#000" stroke-width="1.0"/><line x1="171.26" y1="17.40" x2="171.26" y2="21.40" stroke="#000" stroke-width="1.0"/><line x1="171.26" y1="317.40" x2="171.26" y2="313.90" stroke="#000" stroke-width="1.0"/><line x1="171.26" y1="317.40" x2="171.26" y2="320.90" stroke="#000" stroke-width="1.0"/><line x1="171.26" y1="477.60" x2="171.26" y2="474.60" stroke="#000" stroke-width="1.0"/><line x1="181.24" y1="17.40" x2="181.24" y2="19.40" stroke="#000" stroke-width="1.0"/><line x1="181.24" y1="317.40" x2="181.24" y2="315.40" stroke="#000" stroke-width="1.0"/><line x1="181.24" y1="317.40" x2="181.24" y2="319.40" stroke="#000" stroke-width="1.0"/><line x1="181.24" y1="477.60" x2="181.24" y2="475.60" stroke="#000" stroke-width="1.0"/><line x1="191.22" y1="17.40" x2="191.22" y2="21.40" stroke="#000" stroke-width="1.0"/><line x1="191.22" y1="317.40" x2="191.22" y2="313.90" stroke="#000" stroke-width="1.0"/><line x1="191.22" y1="317.40" x2="191.22" y2="320.90" stroke="#000" stroke-width="1.0"/><line x1="191.22" y1="477.60" x2="191.22" y2="474.60" stroke="#000" stroke-width="1.0"/><line x1="201.20" y1="17.40" x2="201.20" y2="19.40" stroke="#000" stroke-width="1.0"/><line x1="201.20" y1="317.40" x2="201.20" y2="315.40" stroke="#000" stroke-width="1.0"/><line x1="201.20" y1="317.40" x2="201.20" y2="319.40" stroke="#000" stroke-width="1.0"/><line x1="201.20" y1="477.60" x2="201.20" y2="475.60" stroke="#000" stroke-width="1.0"/><line x1="211.18" y1="17.40" x2="211.18" y2="21.40" stroke="#000" stroke-width="1.0"/><line x1="211.18" y1="317.40" x2="211.18" y2="313.90" stroke="#000" stroke-width="1.0"/><line x1="211.18" y1="317.40" x2="211.18" y2="320.90" stroke="#000" stroke-width="1.0"/><line x1="211.18" y1="477.60" x2="211.18" y2="474.60" stroke="#000" stroke-width="1.0"/><line x1="221.16" y1="17.40" x2="221.16" y2="19.40" stroke="#000" stroke-width="1.0"/><line x1="221.16" y1="317.40" x2="221.16" y2="315.40" stroke="#000" stroke-width="1.0"/><line x1="221.16" y1="317.40" x2="221.16" y2="319.40" stroke="#000" stroke-width="1.0"/><line x1="221.16" y1="477.60" x2="221.16" y2="475.60" stroke="#000" stroke-width="1.0"/><line x1="231.14" y1="17.40" x2="231.14" y2="21.40" stroke="#000" stroke-width="1.0"/><line x1="231.14" y1="317.40" x2="231.14" y2="313.90" stroke="#000" stroke-width="1.0"/><line x1="231.14" y1="317.40" x2="231.14" y2="320.90" stroke="#000" stroke-width="1.0"/><line x1="231.14" y1="477.60" x2="231.14" y2="474.60" stroke="#000" stroke-width="1.0"/><line x1="241.12" y1="17.40" x2="241.12" y2="19.40" stroke="#000" stroke-width="1.0"/><line x1="241.12" y1="317.40" x2="241.12" y2="315.40" stroke="#000" stroke-width="1.0"/><line x1="241.12" y1="317.40" x2="241.12" y2="319.40" stroke="#000" stroke-width="1.0"/><line x1="241.12" y1="477.60" x2="241.12" y2="475.60" stroke="#000" stroke-width="1.0"/><line x1="251.10" y1="17.40" x2="251.10" y2="26.00" stroke="#000" stroke-width="1.4"/><line x1="251.10" y1="317.40" x2="251.10" y2="310.10" stroke="#000" stroke-width="1.4"/><line x1="251.10" y1="317.40" x2="251.10" y2="322.40" stroke="#000" stroke-width="1.4"/><line x1="251.10" y1="477.60" x2="251.10" y2="472.80" stroke="#000" stroke-width="1.4"/><line x1="261.08" y1="17.40" x2="261.08" y2="19.40" stroke="#000" stroke-width="1.0"/><line x1="261.08" y1="317.40" x2="261.08" y2="315.40" stroke="#000" stroke-width="1.0"/><line x1="261.08" y1="317.40" x2="261.08" y2="319.40" stroke="#000" stroke-width="1.0"/><line x1="261.08" y1="477.60" x2="261.08" y2="475.60" stroke="#000" stroke-width="1.0"/><line x1="271.06" y1="17.40" x2="271.06" y2="21.40" stroke="#000" stroke-width="1.0"/><line x1="271.06" y1="317.40" x2="271.06" y2="313.90" stroke="#000" stroke-width="1.0"/><line x1="271.06" y1="317.40" x2="271.06" y2="320.90" stroke="#000" stroke-width="1.0"/><line x1="271.06" y1="477.60" x2="271.06" y2="474.60" stroke="#000" stroke-width="1.0"/><line x1="281.04" y1="17.40" x2="281.04" y2="19.40" stroke="#000" stroke-width="1.0"/><line x1="281.04" y1="317.40" x2="281.04" y2="315.40" stroke="#000" stroke-width="1.0"/><line x1="281.04" y1="317.40" x2="281.04" y2="319.40" stroke="#000" stroke-width="1.0"/><line x1="281.04" y1="477.60" x2="281.04" y2="475.60" stroke="#000" stroke-width="1.0"/><line x1="291.02" y1="17.40" x2="291.02" y2="21.40" stroke="#000" stroke-width="1.0"/><line x1="291.02" y1="317.40" x2="291.02" y2="313.90" stroke="#000" stroke-width="1.0"/><line x1="291.02" y1="317.40" x2="291.02" y2="320.90" stroke="#000" stroke-width="1.0"/><line x1="291.02" y1="477.60" x2="291.02" y2="474.60" stroke="#000" stroke-width="1.0"/><line x1="301.00" y1="17.40" x2="301.00" y2="19.40" stroke="#000" stroke-width="1.0"/><line x1="301.00" y1="317.40" x2="301.00" y2="315.40" stroke="#000" stroke-width="1.0"/><line x1="301.00" y1="317.40" x2="301.00" y2="319.40" stroke="#000" stroke-width="1.0"/><line x1="301.00" y1="477.60" x2="301.00" y2="475.60" stroke="#000" stroke-width="1.0"/><line x1="310.98" y1="17.40" x2="310.98" y2="21.40" stroke="#000" stroke-width="1.0"/><line x1="310.98" y1="317.40" x2="310.98" y2="313.90" stroke="#000" stroke-width="1.0"/><line x1="310.98" y1="317.40" x2="310.98" y2="320.90" stroke="#000" stroke-width="1.0"/><line x1="310.98" y1="477.60" x2="310.98" y2="474.60" stroke="#000" stroke-width="1.0"/><line x1="320.96" y1="17.40" x2="320.96" y2="19.40" stroke="#000" stroke-width="1.0"/><line x1="320.96" y1="317.40" x2="320.96" y2="315.40" stroke="#000" stroke-width="1.0"/><line x1="320.96" y1="317.40" x2="320.96" y2="319.40" stroke="#000" stroke-width="1.0"/><line x1="320.96" y1="477.60" x2="320.96" y2="475.60" stroke="#000" stroke-width="1.0"/><line x1="330.94" y1="17.40" x2="330.94" y2="21.40" stroke="#000" stroke-width="1.0"/><line x1="330.94" y1="317.40" x2="330.94" y2="313.90" stroke="#000" stroke-width="1.0"/><line x1="330.94" y1="317.40" x2="330.94" y2="320.90" stroke="#000" stroke-width="1.0"/><line x1="330.94" y1="477.60" x2="330.94" y2="474.60" stroke="#000" stroke-width="1.0"/><line x1="340.92" y1="17.40" x2="340.92" y2="19.40" stroke="#000" stroke-width="1.0"/><line x1="340.92" y1="317.40" x2="340.92" y2="315.40" stroke="#000" stroke-width="1.0"/><line x1="340.92" y1="317.40" x2="340.92" y2="319.40" stroke="#000" stroke-width="1.0"/><line x1="340.92" y1="477.60" x2="340.92" y2="475.60" stroke="#000" stroke-width="1.0"/><line x1="350.90" y1="17.40" x2="350.90" y2="26.00" stroke="#000" stroke-width="1.4"/><line x1="350.90" y1="317.40" x2="350.90" y2="310.10" stroke="#000" stroke-width="1.4"/><line x1="350.90" y1="317.40" x2="350.90" y2="322.40" stroke="#000" stroke-width="1.4"/><line x1="350.90" y1="477.60" x2="350.90" y2="472.80" stroke="#000" stroke-width="1.4"/><line x1="360.88" y1="17.40" x2="360.88" y2="19.40" stroke="#000" stroke-width="1.0"/><line x1="360.88" y1="317.40" x2="360.88" y2="315.40" stroke="#000" stroke-width="1.0"/><line x1="360.88" y1="317.40" x2="360.88" y2="319.40" stroke="#000" stroke-width="1.0"/><line x1="360.88" y1="477.60" x2="360.88" y2="475.60" stroke="#000" stroke-width="1.0"/>
<rect x="45.6" y="17.4" width="325.60" height="460.20" fill="none" stroke="#000" stroke-width="1.1"/>
<line x1="45.6" y1="317.4" x2="371.2" y2="317.4" stroke="#000" stroke-width="1.1"/>
<text x="50.6" y="14.3" font-size="12.2" text-anchor="start" fill="#000" textLength="89.5" lengthAdjust="spacingAndGlyphs">1960 GeV ppbar</text><text x="272.3" y="14.3" font-size="12.2" text-anchor="start" fill="#000" textLength="94.8" lengthAdjust="spacingAndGlyphs">Top (parton level)</text><text x="146.8" y="43.3" font-size="9.0" textLength="7.0" lengthAdjust="spacingAndGlyphs" fill="#222">Δ</text><text x="154.2" y="43.1" font-size="10.0" textLength="6.9" lengthAdjust="spacingAndGlyphs" fill="#222">ϕ</text><text x="163.3" y="43.6" font-size="9.8" text-anchor="start" fill="#000" textLength="26.5" lengthAdjust="spacingAndGlyphs">(ttbar)</text><text x="192.5" y="43.6" font-size="9.8" text-anchor="start" fill="#000" textLength="17.2" lengthAdjust="spacingAndGlyphs">(Mtt</text><text x="212.7" y="43.6" font-size="9.8" text-anchor="start" fill="#000" >&lt;</text><text x="220.4" y="43.6" font-size="9.8" text-anchor="start" fill="#000" textLength="16.4" lengthAdjust="spacingAndGlyphs">450</text><text x="240.6" y="43.6" font-size="9.8" text-anchor="start" fill="#000" textLength="10.8" lengthAdjust="spacingAndGlyphs">dy</text><text x="253.8" y="43.6" font-size="9.8" text-anchor="start" fill="#000" >&lt;</text><text x="262.5" y="43.6" font-size="9.8" text-anchor="start" fill="#000" textLength="8.4" lengthAdjust="spacingAndGlyphs">0)</text><text x="94.2" y="65.6" font-size="9.5" text-anchor="start" fill="#000" textLength="84.3" lengthAdjust="spacingAndGlyphs">Pythia 8.315 default</text><text x="94.2" y="77.8" font-size="9.5" text-anchor="start" fill="#000" textLength="111.8" lengthAdjust="spacingAndGlyphs">Pythia 8.315 vincia-default</text><text x="173.5" y="302.5" font-size="9.0" text-anchor="start" fill="#a0a0a0" textLength="67.6" lengthAdjust="spacingAndGlyphs">(MC_FBA_TTBAR)</text><line x1="64" y1="62.1" x2="88.8" y2="62.1" stroke="#0000e6" stroke-width="1.0"/><path d="M73.3,65.2 L79.7,65.2 L76.5,59.0 Z" fill="#0000e6"/><line x1="64" y1="75.1" x2="88.8" y2="75.1" stroke="#1496b9" stroke-width="1" stroke-dasharray="4,2,1,2"/><path d="M73.3,72.2 L79.7,72.2 L76.5,78.0 Z" fill="#1496b9"/><text x="34.9" y="48.9" font-size="10.6" text-anchor="end">10</text><text x="39.9" y="44.1" font-size="8" text-anchor="end">2</text><text x="40.6" y="106.2" font-size="10.6" text-anchor="end">10</text><text x="40.2" y="163.6" font-size="10.6" text-anchor="end">1</text><text x="32.9" y="223.5" font-size="10.6" text-anchor="end">10</text><text x="40.0" y="219.0" font-size="8" text-anchor="end">−1</text><text x="30.3" y="282.0" font-size="10.6" text-anchor="end">10</text><text x="39.8" y="277.2" font-size="8" text-anchor="end">−2</text><text x="38.4" y="340.8" font-size="11.2" text-anchor="end">2</text><text x="373.6" y="340.8" font-size="11.2">2</text><text x="38.0" y="401.8" font-size="11.2" text-anchor="end">1</text><text x="373.6" y="401.8" font-size="11.2">1</text><text x="38.4" y="462.2" font-size="11.2" text-anchor="end">0.5</text><text x="373.6" y="462.2" font-size="11.2">0.5</text><text x="51.50" y="489.4" font-size="11.2" text-anchor="middle">0</text><text x="151.30" y="489.4" font-size="11.2" text-anchor="middle">1</text><text x="251.10" y="489.4" font-size="11.2" text-anchor="middle">2</text><text x="350.90" y="489.4" font-size="11.2" text-anchor="middle">3</text><text transform="translate(17.3,453.3) rotate(-90)" font-size="9.0" textLength="114" lengthAdjust="spacingAndGlyphs">Ratio to Pythia 8.315 default</text><text transform="translate(380.4,127.2) rotate(-90)" font-size="9.5" fill="#808080" textLength="109.5" lengthAdjust="spacingAndGlyphs">Rivet 4.1.0, ≥ 100k events</text><text transform="translate(380.9,313.8) rotate(-90)" font-size="9.5" fill="#808080" textLength="142.5" lengthAdjust="spacingAndGlyphs">mcplots.cern.ch [arXiv:1306.3436]</text>
</svg></body></html>
